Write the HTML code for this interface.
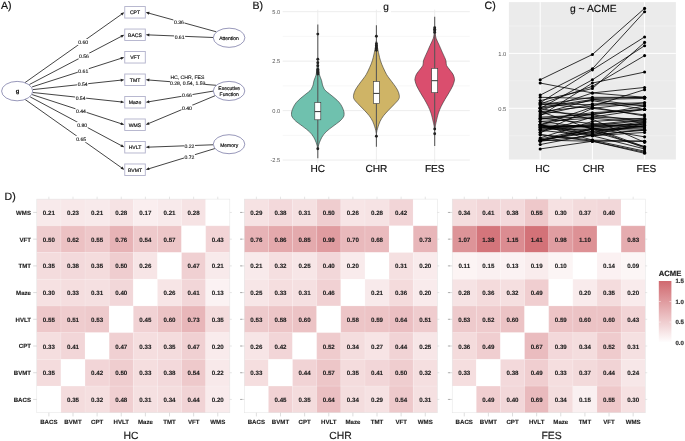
<!DOCTYPE html><html><head><meta charset="utf-8"><style>
html,body{margin:0;padding:0;background:#fff;width:685px;height:441px;overflow:hidden}
svg{display:block;will-change:transform}
text{font-family:"Liberation Sans", sans-serif;text-rendering:geometricPrecision}
</style></head><body>
<svg width="685" height="441" viewBox="0 0 685 441">
<rect width="685" height="441" fill="#fff"/>
<text x="0.9" y="9.0" font-size="10.6" fill="#111" stroke="#111" stroke-width="0.18">A)</text>
<text x="252.4" y="8.6" font-size="10.6" fill="#111" stroke="#111" stroke-width="0.18">B)</text>
<text x="484.5" y="8.8" font-size="10.6" fill="#111" stroke="#111" stroke-width="0.18">C)</text>
<text x="4.6" y="199.6" font-size="10.6" fill="#111" stroke="#111" stroke-width="0.18">D)</text>
<line x1="25.00" y1="82.60" x2="121.82" y2="14.09" stroke="#222" stroke-width="0.85"/><polygon points="124.35,12.30 122.28,15.60 120.54,13.15" fill="#222"/>
<line x1="29.40" y1="84.50" x2="121.60" y2="36.23" stroke="#222" stroke-width="0.85"/><polygon points="124.35,34.79 121.86,37.79 120.46,35.13" fill="#222"/>
<line x1="32.10" y1="86.90" x2="121.40" y2="58.23" stroke="#222" stroke-width="0.85"/><polygon points="124.35,57.28 121.38,59.81 120.46,56.95" fill="#222"/>
<line x1="32.90" y1="89.60" x2="121.27" y2="80.10" stroke="#222" stroke-width="0.85"/><polygon points="124.35,79.77 120.93,81.65 120.61,78.66" fill="#222"/>
<line x1="32.90" y1="92.50" x2="121.27" y2="101.93" stroke="#222" stroke-width="0.85"/><polygon points="124.35,102.26 120.61,103.37 120.93,100.39" fill="#222"/>
<line x1="32.10" y1="94.60" x2="121.40" y2="123.79" stroke="#222" stroke-width="0.85"/><polygon points="124.35,124.75 120.46,125.06 121.39,122.21" fill="#222"/>
<line x1="30.20" y1="96.90" x2="121.62" y2="145.78" stroke="#222" stroke-width="0.85"/><polygon points="124.35,147.24 120.47,146.87 121.88,144.22" fill="#222"/>
<line x1="25.00" y1="99.40" x2="121.82" y2="167.94" stroke="#222" stroke-width="0.85"/><polygon points="124.35,169.73 120.55,168.87 122.28,166.43" fill="#222"/>
<line x1="216.30" y1="31.80" x2="148.69" y2="13.13" stroke="#222" stroke-width="0.85"/><polygon points="145.70,12.30 149.57,11.81 148.77,14.70" fill="#222"/>
<line x1="213.30" y1="37.50" x2="148.80" y2="34.91" stroke="#222" stroke-width="0.85"/><polygon points="145.70,34.79 149.36,33.44 149.24,36.43" fill="#222"/>
<line x1="216.30" y1="85.30" x2="148.79" y2="80.01" stroke="#222" stroke-width="0.85"/><polygon points="145.70,79.77 149.41,78.56 149.17,81.55" fill="#222"/>
<line x1="213.30" y1="91.10" x2="148.76" y2="101.76" stroke="#222" stroke-width="0.85"/><polygon points="145.70,102.26 149.01,100.19 149.50,103.15" fill="#222"/>
<line x1="215.10" y1="95.70" x2="148.56" y2="123.55" stroke="#222" stroke-width="0.85"/><polygon points="145.70,124.75 148.44,121.98 149.60,124.74" fill="#222"/>
<line x1="213.33" y1="144.77" x2="148.80" y2="147.13" stroke="#222" stroke-width="0.85"/><polygon points="145.70,147.24 149.24,145.61 149.35,148.61" fill="#222"/>
<line x1="215.01" y1="148.50" x2="148.66" y2="168.82" stroke="#222" stroke-width="0.85"/><polygon points="145.70,169.73 148.70,167.24 149.58,170.11" fill="#222"/>
<rect x="77.70" y="39.00" width="11.00" height="6.40" fill="#fff"/><text x="83.20" y="44.14" font-size="5.1" fill="#111" stroke="#111" stroke-width="0.12" text-anchor="middle">0.60</text>
<rect x="78.50" y="52.90" width="11.00" height="6.40" fill="#fff"/><text x="84.00" y="58.04" font-size="5.1" fill="#111" stroke="#111" stroke-width="0.12" text-anchor="middle">0.56</text>
<rect x="77.80" y="67.80" width="11.00" height="6.40" fill="#fff"/><text x="83.30" y="72.94" font-size="5.1" fill="#111" stroke="#111" stroke-width="0.12" text-anchor="middle">0.61</text>
<rect x="77.20" y="80.90" width="11.00" height="6.40" fill="#fff"/><text x="82.70" y="86.04" font-size="5.1" fill="#111" stroke="#111" stroke-width="0.12" text-anchor="middle">0.54</text>
<rect x="75.10" y="94.60" width="11.00" height="6.40" fill="#fff"/><text x="80.60" y="99.74" font-size="5.1" fill="#111" stroke="#111" stroke-width="0.12" text-anchor="middle">0.54</text>
<rect x="75.50" y="107.40" width="11.00" height="6.40" fill="#fff"/><text x="81.00" y="112.54" font-size="5.1" fill="#111" stroke="#111" stroke-width="0.12" text-anchor="middle">0.44</text>
<rect x="76.70" y="121.70" width="11.00" height="6.40" fill="#fff"/><text x="82.20" y="126.84" font-size="5.1" fill="#111" stroke="#111" stroke-width="0.12" text-anchor="middle">0.80</text>
<rect x="75.70" y="135.80" width="11.00" height="6.40" fill="#fff"/><text x="81.20" y="140.94" font-size="5.1" fill="#111" stroke="#111" stroke-width="0.12" text-anchor="middle">0.65</text>
<rect x="173.40" y="18.60" width="11.00" height="6.40" fill="#fff"/><text x="178.90" y="23.74" font-size="5.1" fill="#111" stroke="#111" stroke-width="0.12" text-anchor="middle">0.36</text>
<rect x="174.10" y="33.60" width="11.00" height="6.40" fill="#fff"/><text x="179.60" y="38.74" font-size="5.1" fill="#111" stroke="#111" stroke-width="0.12" text-anchor="middle">0.61</text>
<rect x="181.50" y="92.20" width="11.00" height="6.40" fill="#fff"/><text x="187.00" y="97.34" font-size="5.1" fill="#111" stroke="#111" stroke-width="0.12" text-anchor="middle">0.66</text>
<rect x="181.50" y="105.00" width="11.00" height="6.40" fill="#fff"/><text x="187.00" y="110.14" font-size="5.1" fill="#111" stroke="#111" stroke-width="0.12" text-anchor="middle">0.40</text>
<rect x="184.00" y="142.50" width="11.00" height="6.40" fill="#fff"/><text x="189.50" y="147.64" font-size="5.1" fill="#111" stroke="#111" stroke-width="0.12" text-anchor="middle">0.22</text>
<rect x="184.00" y="154.10" width="11.00" height="6.40" fill="#fff"/><text x="189.50" y="159.24" font-size="5.1" fill="#111" stroke="#111" stroke-width="0.12" text-anchor="middle">0.72</text>
<rect x="170.90" y="73.70" width="33.00" height="6.40" fill="#fff"/><text x="187.40" y="78.84" font-size="5.1" fill="#111" stroke="#111" stroke-width="0.12" text-anchor="middle">HC, CHR, FES</text>
<rect x="170.10" y="79.80" width="35.00" height="6.40" fill="#fff"/><text x="187.60" y="84.94" font-size="5.1" fill="#111" stroke="#111" stroke-width="0.12" text-anchor="middle">0.28, 0.54, 1.59</text>
<rect x="124.75" y="6.55" width="20.55" height="11.50" fill="#fff" stroke="#b1b1cb" stroke-width="0.9"/>
<text x="135.03" y="14.15" font-size="5.1" fill="#111" text-anchor="middle" stroke="#111" stroke-width="0.18">CPT</text>
<rect x="124.75" y="29.04" width="20.55" height="11.50" fill="#fff" stroke="#b1b1cb" stroke-width="0.9"/>
<text x="135.03" y="36.64" font-size="5.1" fill="#111" text-anchor="middle" stroke="#111" stroke-width="0.18">BACS</text>
<rect x="124.75" y="51.53" width="20.55" height="11.50" fill="#fff" stroke="#b1b1cb" stroke-width="0.9"/>
<text x="135.03" y="59.13" font-size="5.1" fill="#111" text-anchor="middle" stroke="#111" stroke-width="0.18">VFT</text>
<rect x="124.75" y="74.02" width="20.55" height="11.50" fill="#fff" stroke="#b1b1cb" stroke-width="0.9"/>
<text x="135.03" y="81.62" font-size="5.1" fill="#111" text-anchor="middle" stroke="#111" stroke-width="0.18">TMT</text>
<rect x="124.75" y="96.51" width="20.55" height="11.50" fill="#fff" stroke="#b1b1cb" stroke-width="0.9"/>
<text x="135.03" y="104.11" font-size="5.1" fill="#111" text-anchor="middle" stroke="#111" stroke-width="0.18">Maze</text>
<rect x="124.75" y="119.00" width="20.55" height="11.50" fill="#fff" stroke="#b1b1cb" stroke-width="0.9"/>
<text x="135.03" y="126.60" font-size="5.1" fill="#111" text-anchor="middle" stroke="#111" stroke-width="0.18">WMS</text>
<rect x="124.75" y="141.49" width="20.55" height="11.50" fill="#fff" stroke="#b1b1cb" stroke-width="0.9"/>
<text x="135.03" y="149.09" font-size="5.1" fill="#111" text-anchor="middle" stroke="#111" stroke-width="0.18">HVLT</text>
<rect x="124.75" y="163.98" width="20.55" height="11.50" fill="#fff" stroke="#b1b1cb" stroke-width="0.9"/>
<text x="135.03" y="171.58" font-size="5.1" fill="#111" text-anchor="middle" stroke="#111" stroke-width="0.18">BVMT</text>
<ellipse cx="17.15" cy="91.10" rx="15.55" ry="9.70" fill="#fff" stroke="#6c6c9c" stroke-width="0.7"/>
<text x="17.45" y="93.00" font-size="5.8" font-weight="bold" fill="#111" text-anchor="middle" stroke="#111" stroke-width="0.18">g</text>
<ellipse cx="229.10" cy="37.75" rx="15.80" ry="9.60" fill="#fff" stroke="#6c6c9c" stroke-width="0.7"/>
<ellipse cx="229.05" cy="90.95" rx="15.75" ry="9.55" fill="#fff" stroke="#6c6c9c" stroke-width="0.7"/>
<ellipse cx="229.05" cy="144.20" rx="15.75" ry="9.50" fill="#fff" stroke="#6c6c9c" stroke-width="0.7"/>
<text x="229.0" y="39.9" font-size="5.0" fill="#111" text-anchor="middle" stroke="#111" stroke-width="0.18">Attention</text>
<text x="229.2" y="90.2" font-size="5.0" fill="#111" text-anchor="middle" stroke="#111" stroke-width="0.18">Executive</text>
<text x="229.2" y="95.8" font-size="5.0" fill="#111" text-anchor="middle" stroke="#111" stroke-width="0.18">Function</text>
<text x="229.2" y="146.5" font-size="5.0" fill="#111" text-anchor="middle" stroke="#111" stroke-width="0.18">Memory</text>
<line x1="282.7" x2="469.8" y1="36.42" y2="36.42" stroke="#f2f2f2" stroke-width="0.6"/>
<line x1="282.7" x2="469.8" y1="85.88" y2="85.88" stroke="#f2f2f2" stroke-width="0.6"/>
<line x1="282.7" x2="469.8" y1="135.32" y2="135.32" stroke="#f2f2f2" stroke-width="0.6"/>
<line x1="282.7" x2="469.8" y1="11.70" y2="11.70" stroke="#ebebeb" stroke-width="0.9"/>
<text x="280.2" y="13.95" font-size="5.7" fill="#555" stroke="none" text-anchor="end">5.0</text>
<line x1="282.7" x2="469.8" y1="61.15" y2="61.15" stroke="#ebebeb" stroke-width="0.9"/>
<text x="280.2" y="63.40" font-size="5.7" fill="#555" stroke="none" text-anchor="end">2.5</text>
<line x1="282.7" x2="469.8" y1="110.60" y2="110.60" stroke="#ebebeb" stroke-width="0.9"/>
<text x="280.2" y="112.85" font-size="5.7" fill="#555" stroke="none" text-anchor="end">0.0</text>
<line x1="282.7" x2="469.8" y1="160.05" y2="160.05" stroke="#ebebeb" stroke-width="0.9"/>
<text x="280.2" y="162.30" font-size="5.7" fill="#555" stroke="none" text-anchor="end">-2.5</text>
<line x1="317.8" x2="317.8" y1="9.7" y2="163.0" stroke="#ebebeb" stroke-width="0.9"/>
<line x1="376.4" x2="376.4" y1="9.7" y2="163.0" stroke="#ebebeb" stroke-width="0.9"/>
<line x1="434.7" x2="434.7" y1="9.7" y2="163.0" stroke="#ebebeb" stroke-width="0.9"/>
<path d="M318.00,61.00 C318.07,61.83 318.23,64.33 318.40,66.00 C318.57,67.67 318.82,69.50 319.00,71.00 C319.18,72.50 319.07,73.40 319.50,75.00 C319.93,76.60 321.10,78.93 321.60,80.60 C322.10,82.27 322.15,83.80 322.50,85.00 C322.85,86.20 323.35,87.03 323.70,87.80 C324.05,88.57 324.08,88.93 324.60,89.60 C325.12,90.27 326.00,91.10 326.80,91.80 C327.60,92.50 328.08,92.75 329.40,93.80 C330.72,94.85 333.05,96.65 334.70,98.10 C336.35,99.55 338.07,101.03 339.30,102.50 C340.53,103.97 341.35,105.43 342.10,106.90 C342.85,108.37 343.47,110.03 343.80,111.30 C344.13,112.57 344.17,113.55 344.10,114.50 C344.03,115.45 344.08,115.92 343.40,117.00 C342.72,118.08 341.73,119.45 340.00,121.00 C338.27,122.55 335.32,124.50 333.00,126.30 C330.68,128.10 327.95,129.98 326.10,131.80 C324.25,133.62 323.02,135.38 321.90,137.20 C320.78,139.02 320.00,141.15 319.40,142.70 C318.80,144.25 318.55,145.62 318.30,146.50 C318.05,147.38 318.00,147.75 317.90,148.00 C317.80,148.25 317.80,148.25 317.70,148.00 C317.60,147.75 317.55,147.38 317.30,146.50 C317.05,145.62 316.80,144.25 316.20,142.70 C315.60,141.15 314.82,139.02 313.70,137.20 C312.58,135.38 311.35,133.62 309.50,131.80 C307.65,129.98 304.92,128.10 302.60,126.30 C300.28,124.50 297.33,122.55 295.60,121.00 C293.87,119.45 292.88,118.08 292.20,117.00 C291.52,115.92 291.57,115.45 291.50,114.50 C291.43,113.55 291.47,112.57 291.80,111.30 C292.13,110.03 292.75,108.37 293.50,106.90 C294.25,105.43 295.07,103.97 296.30,102.50 C297.53,101.03 299.25,99.55 300.90,98.10 C302.55,96.65 304.88,94.85 306.20,93.80 C307.52,92.75 308.00,92.50 308.80,91.80 C309.60,91.10 310.48,90.27 311.00,89.60 C311.52,88.93 311.55,88.57 311.90,87.80 C312.25,87.03 312.75,86.20 313.10,85.00 C313.45,83.80 313.50,82.27 314.00,80.60 C314.50,78.93 315.67,76.60 316.10,75.00 C316.53,73.40 316.42,72.50 316.60,71.00 C316.78,69.50 317.03,67.67 317.20,66.00 C317.37,64.33 317.53,61.83 317.60,61.00 Z" fill="#6fc1ae" stroke="#333" stroke-width="0.6"/>
<line x1="317.80" x2="317.80" y1="24.50" y2="158.30" stroke="#555" stroke-width="1.05"/>
<rect x="314.80" y="102.50" width="6.0" height="17.30" fill="#fff" stroke="#333" stroke-width="0.6"/>
<line x1="314.80" x2="320.80" y1="111.60" y2="111.60" stroke="#333" stroke-width="1.0"/>
<circle cx="317.80" cy="34.10" r="1.45" fill="#222"/>
<circle cx="317.80" cy="59.20" r="1.45" fill="#222"/>
<circle cx="317.80" cy="62.80" r="1.45" fill="#222"/>
<circle cx="317.80" cy="65.80" r="1.45" fill="#222"/>
<circle cx="317.80" cy="69.50" r="1.45" fill="#222"/>
<circle cx="317.80" cy="71.00" r="1.45" fill="#222"/>
<circle cx="317.80" cy="72.50" r="1.45" fill="#222"/>
<circle cx="317.80" cy="74.00" r="1.45" fill="#222"/>
<circle cx="317.80" cy="148.80" r="1.45" fill="#222"/>
<path d="M376.60,41.00 C376.67,41.67 376.83,43.83 377.00,45.00 C377.17,46.17 377.30,46.50 377.60,48.00 C377.90,49.50 378.32,51.87 378.80,54.00 C379.28,56.13 379.77,58.53 380.50,60.80 C381.23,63.07 382.20,65.33 383.20,67.60 C384.20,69.87 385.40,72.48 386.50,74.40 C387.60,76.32 388.57,77.42 389.80,79.10 C391.03,80.78 392.62,82.68 393.90,84.50 C395.18,86.32 396.60,88.18 397.50,90.00 C398.40,91.82 399.13,93.82 399.30,95.40 C399.47,96.98 399.43,97.92 398.50,99.50 C397.57,101.08 395.40,103.08 393.70,104.90 C392.00,106.72 390.00,108.58 388.30,110.40 C386.60,112.22 384.87,113.98 383.50,115.80 C382.13,117.62 381.00,119.48 380.10,121.30 C379.20,123.12 378.62,125.17 378.10,126.70 C377.58,128.23 377.27,129.45 377.00,130.50 C376.73,131.55 376.62,132.58 376.50,133.00 C376.38,133.42 376.42,133.42 376.30,133.00 C376.18,132.58 376.07,131.55 375.80,130.50 C375.53,129.45 375.22,128.23 374.70,126.70 C374.18,125.17 373.60,123.12 372.70,121.30 C371.80,119.48 370.67,117.62 369.30,115.80 C367.93,113.98 366.20,112.22 364.50,110.40 C362.80,108.58 360.80,106.72 359.10,104.90 C357.40,103.08 355.23,101.08 354.30,99.50 C353.37,97.92 353.33,96.98 353.50,95.40 C353.67,93.82 354.40,91.82 355.30,90.00 C356.20,88.18 357.62,86.32 358.90,84.50 C360.18,82.68 361.77,80.78 363.00,79.10 C364.23,77.42 365.20,76.32 366.30,74.40 C367.40,72.48 368.60,69.87 369.60,67.60 C370.60,65.33 371.57,63.07 372.30,60.80 C373.03,58.53 373.52,56.13 374.00,54.00 C374.48,51.87 374.90,49.50 375.20,48.00 C375.50,46.50 375.63,46.17 375.80,45.00 C375.97,43.83 376.13,41.67 376.20,41.00 Z" fill="#cfb466" stroke="#333" stroke-width="0.6"/>
<line x1="376.40" x2="376.40" y1="25.20" y2="146.70" stroke="#555" stroke-width="1.05"/>
<rect x="373.40" y="81.50" width="6.0" height="22.10" fill="#fff" stroke="#333" stroke-width="0.6"/>
<line x1="373.40" x2="379.40" y1="93.40" y2="93.40" stroke="#333" stroke-width="1.0"/>
<circle cx="376.40" cy="36.30" r="1.45" fill="#222"/>
<circle cx="376.40" cy="43.80" r="1.45" fill="#222"/>
<circle cx="376.40" cy="45.50" r="1.45" fill="#222"/>
<circle cx="376.40" cy="47.00" r="1.45" fill="#222"/>
<circle cx="376.40" cy="48.50" r="1.45" fill="#222"/>
<circle cx="376.40" cy="50.30" r="1.45" fill="#222"/>
<circle cx="376.40" cy="136.30" r="1.45" fill="#222"/>
<path d="M434.90,30.00 C434.97,30.67 435.08,32.57 435.30,34.00 C435.52,35.43 435.53,36.70 436.20,38.60 C436.87,40.50 438.43,43.47 439.30,45.40 C440.17,47.33 440.70,48.62 441.40,50.20 C442.10,51.78 442.97,53.72 443.50,54.90 C444.03,56.08 444.18,56.28 444.60,57.30 C445.02,58.32 445.68,59.67 446.00,61.00 C446.32,62.33 445.98,63.97 446.50,65.30 C447.02,66.63 448.03,67.53 449.10,69.00 C450.17,70.47 452.02,72.52 452.90,74.10 C453.78,75.68 454.17,77.35 454.40,78.50 C454.63,79.65 454.58,79.77 454.30,81.00 C454.02,82.23 453.58,83.95 452.70,85.90 C451.82,87.85 450.30,90.43 449.00,92.70 C447.70,94.97 446.20,97.23 444.90,99.50 C443.60,101.77 442.28,104.03 441.20,106.30 C440.12,108.57 439.20,110.67 438.40,113.10 C437.60,115.53 436.90,118.83 436.40,120.90 C435.90,122.97 435.67,124.23 435.40,125.50 C435.13,126.77 434.93,128.00 434.80,128.50 C434.67,129.00 434.73,129.00 434.60,128.50 C434.47,128.00 434.27,126.77 434.00,125.50 C433.73,124.23 433.50,122.97 433.00,120.90 C432.50,118.83 431.80,115.53 431.00,113.10 C430.20,110.67 429.28,108.57 428.20,106.30 C427.12,104.03 425.80,101.77 424.50,99.50 C423.20,97.23 421.70,94.97 420.40,92.70 C419.10,90.43 417.58,87.85 416.70,85.90 C415.82,83.95 415.38,82.23 415.10,81.00 C414.82,79.77 414.77,79.65 415.00,78.50 C415.23,77.35 415.62,75.68 416.50,74.10 C417.38,72.52 419.23,70.47 420.30,69.00 C421.37,67.53 422.38,66.63 422.90,65.30 C423.42,63.97 423.08,62.33 423.40,61.00 C423.72,59.67 424.38,58.32 424.80,57.30 C425.22,56.28 425.37,56.08 425.90,54.90 C426.43,53.72 427.30,51.78 428.00,50.20 C428.70,48.62 429.23,47.33 430.10,45.40 C430.97,43.47 432.53,40.50 433.20,38.60 C433.87,36.70 433.88,35.43 434.10,34.00 C434.32,32.57 434.43,30.67 434.50,30.00 Z" fill="#da4e6e" stroke="#333" stroke-width="0.6"/>
<line x1="434.70" x2="434.70" y1="16.80" y2="146.00" stroke="#555" stroke-width="1.05"/>
<rect x="431.70" y="68.30" width="6.0" height="24.40" fill="#fff" stroke="#333" stroke-width="0.6"/>
<line x1="431.70" x2="437.70" y1="80.70" y2="80.70" stroke="#333" stroke-width="1.0"/>
<circle cx="434.70" cy="27.70" r="1.45" fill="#222"/>
<circle cx="434.70" cy="29.20" r="1.45" fill="#222"/>
<circle cx="434.70" cy="30.80" r="1.45" fill="#222"/>
<circle cx="434.70" cy="32.40" r="1.45" fill="#222"/>
<circle cx="434.70" cy="129.00" r="1.45" fill="#222"/>
<circle cx="434.70" cy="133.80" r="1.45" fill="#222"/>
<rect x="381.0" y="3.5" width="10" height="10" fill="#fff"/>
<text x="386.0" y="9.7" font-size="10" fill="#111" text-anchor="middle" stroke="#111" stroke-width="0.18">g</text>
<text x="317.80" y="171.6" font-size="10.1" fill="#111" text-anchor="middle" stroke="#111" stroke-width="0.18">HC</text>
<text x="376.40" y="171.6" font-size="10.1" fill="#111" text-anchor="middle" stroke="#111" stroke-width="0.18">CHR</text>
<text x="434.70" y="171.6" font-size="10.1" fill="#111" text-anchor="middle" stroke="#111" stroke-width="0.18">FES</text>
<rect x="508.9" y="2.1" width="167.0" height="157.4" fill="#ebebeb"/>
<line x1="508.9" x2="675.9" y1="25.95" y2="25.95" stroke="#f6f6f6" stroke-width="0.55"/>
<line x1="508.9" x2="675.9" y1="80.85" y2="80.85" stroke="#f6f6f6" stroke-width="0.55"/>
<line x1="508.9" x2="675.9" y1="135.75" y2="135.75" stroke="#f6f6f6" stroke-width="0.55"/>
<line x1="508.9" x2="675.9" y1="53.40" y2="53.40" stroke="#fff" stroke-width="1.0"/>
<text x="506.3" y="56.15" font-size="5.8" fill="#555" stroke="none" text-anchor="end">1.0</text>
<line x1="508.9" x2="675.9" y1="108.30" y2="108.30" stroke="#fff" stroke-width="1.0"/>
<text x="506.3" y="111.05" font-size="5.8" fill="#555" stroke="none" text-anchor="end">0.5</text>
<line x1="540.2" x2="540.2" y1="2.1" y2="159.6" stroke="#fff" stroke-width="1.0"/>
<line x1="592.4" x2="592.4" y1="2.1" y2="159.6" stroke="#fff" stroke-width="1.0"/>
<line x1="644.6" x2="644.6" y1="2.1" y2="159.6" stroke="#fff" stroke-width="1.0"/>
<polyline points="540.20,140.14 592.40,131.36 644.60,125.87" fill="none" stroke="#000" stroke-width="0.8"/>
<polyline points="540.20,137.95 592.40,121.48 644.60,118.18" fill="none" stroke="#000" stroke-width="0.8"/>
<polyline points="540.20,140.14 592.40,129.16 644.60,121.48" fill="none" stroke="#000" stroke-width="0.8"/>
<polyline points="540.20,132.46 592.40,108.30 644.60,102.81" fill="none" stroke="#000" stroke-width="0.8"/>
<polyline points="540.20,144.53 592.40,134.65 644.60,130.26" fill="none" stroke="#000" stroke-width="0.8"/>
<polyline points="540.20,140.14 592.40,132.46 644.60,122.57" fill="none" stroke="#000" stroke-width="0.8"/>
<polyline points="540.20,132.46 592.40,117.08 644.60,119.28" fill="none" stroke="#000" stroke-width="0.8"/>
<polyline points="540.20,108.30 592.40,79.75 644.60,45.71" fill="none" stroke="#000" stroke-width="0.8"/>
<polyline points="540.20,95.12 592.40,68.77 644.60,11.68" fill="none" stroke="#000" stroke-width="0.8"/>
<polyline points="540.20,102.81 592.40,69.87 644.60,36.93" fill="none" stroke="#000" stroke-width="0.8"/>
<polyline points="540.20,79.75 592.40,54.50 644.60,8.38" fill="none" stroke="#000" stroke-width="0.8"/>
<polyline points="540.20,103.91 592.40,86.34 644.60,55.60" fill="none" stroke="#000" stroke-width="0.8"/>
<polyline points="540.20,100.61 592.40,88.54 644.60,42.42" fill="none" stroke="#000" stroke-width="0.8"/>
<polyline points="540.20,115.99 592.40,83.05 644.60,72.07" fill="none" stroke="#000" stroke-width="0.8"/>
<polyline points="540.20,124.77 592.40,140.14 644.60,151.12" fill="none" stroke="#000" stroke-width="0.8"/>
<polyline points="540.20,121.48 592.40,128.06 644.60,146.73" fill="none" stroke="#000" stroke-width="0.8"/>
<polyline points="540.20,124.77 592.40,135.75 644.60,148.93" fill="none" stroke="#000" stroke-width="0.8"/>
<polyline points="540.20,108.30 592.40,119.28 644.60,142.34" fill="none" stroke="#000" stroke-width="0.8"/>
<polyline points="540.20,134.65 592.40,141.24 644.60,152.22" fill="none" stroke="#000" stroke-width="0.8"/>
<polyline points="540.20,111.59 592.40,129.16 644.60,147.83" fill="none" stroke="#000" stroke-width="0.8"/>
<polyline points="540.20,140.14 592.40,141.24 644.60,153.32" fill="none" stroke="#000" stroke-width="0.8"/>
<polyline points="540.20,130.26 592.40,135.75 644.60,132.46" fill="none" stroke="#000" stroke-width="0.8"/>
<polyline points="540.20,126.97 592.40,126.97 644.60,123.67" fill="none" stroke="#000" stroke-width="0.8"/>
<polyline points="540.20,129.16 592.40,129.16 644.60,128.06" fill="none" stroke="#000" stroke-width="0.8"/>
<polyline points="540.20,119.28 592.40,112.69 644.60,109.40" fill="none" stroke="#000" stroke-width="0.8"/>
<polyline points="540.20,134.65 592.40,140.14 644.60,141.24" fill="none" stroke="#000" stroke-width="0.8"/>
<polyline points="540.20,118.18 592.40,123.67 644.60,124.77" fill="none" stroke="#000" stroke-width="0.8"/>
<polyline points="540.20,148.93 592.40,141.24 644.60,141.24" fill="none" stroke="#000" stroke-width="0.8"/>
<polyline points="540.20,102.81 592.40,105.01 644.60,105.01" fill="none" stroke="#000" stroke-width="0.8"/>
<polyline points="540.20,107.20 592.40,99.52 644.60,106.10" fill="none" stroke="#000" stroke-width="0.8"/>
<polyline points="540.20,105.01 592.40,97.32 644.60,97.32" fill="none" stroke="#000" stroke-width="0.8"/>
<polyline points="540.20,113.79 592.40,99.52 644.60,98.42" fill="none" stroke="#000" stroke-width="0.8"/>
<polyline points="540.20,97.32 592.40,98.42 644.60,97.32" fill="none" stroke="#000" stroke-width="0.8"/>
<polyline points="540.20,83.05 592.40,92.93 644.60,97.32" fill="none" stroke="#000" stroke-width="0.8"/>
<polyline points="540.20,124.77 592.40,107.20 644.60,115.99" fill="none" stroke="#000" stroke-width="0.8"/>
<polyline points="540.20,126.97 592.40,134.65 644.60,123.67" fill="none" stroke="#000" stroke-width="0.8"/>
<polyline points="540.20,118.18 592.40,117.08 644.60,109.40" fill="none" stroke="#000" stroke-width="0.8"/>
<polyline points="540.20,111.59 592.40,106.10 644.60,89.63" fill="none" stroke="#000" stroke-width="0.8"/>
<polyline points="540.20,126.97 592.40,125.87 644.60,120.38" fill="none" stroke="#000" stroke-width="0.8"/>
<polyline points="540.20,124.77 592.40,133.55 644.60,125.87" fill="none" stroke="#000" stroke-width="0.8"/>
<polyline points="540.20,111.59 592.40,114.89 644.60,106.10" fill="none" stroke="#000" stroke-width="0.8"/>
<polyline points="540.20,141.24 592.40,135.75 644.60,129.16" fill="none" stroke="#000" stroke-width="0.8"/>
<polyline points="540.20,124.77 592.40,126.97 644.60,126.97" fill="none" stroke="#000" stroke-width="0.8"/>
<polyline points="540.20,117.08 592.40,114.89 644.60,121.48" fill="none" stroke="#000" stroke-width="0.8"/>
<polyline points="540.20,108.30 592.40,100.61 644.60,109.40" fill="none" stroke="#000" stroke-width="0.8"/>
<polyline points="540.20,126.97 592.40,124.77 644.60,126.97" fill="none" stroke="#000" stroke-width="0.8"/>
<polyline points="540.20,121.48 592.40,118.18 644.60,122.57" fill="none" stroke="#000" stroke-width="0.8"/>
<polyline points="540.20,103.91 592.40,108.30 644.60,114.89" fill="none" stroke="#000" stroke-width="0.8"/>
<polyline points="540.20,139.04 592.40,128.06 644.60,136.85" fill="none" stroke="#000" stroke-width="0.8"/>
<polyline points="540.20,124.77 592.40,113.79 644.60,109.40" fill="none" stroke="#000" stroke-width="0.8"/>
<polyline points="540.20,128.06 592.40,124.77 644.60,119.28" fill="none" stroke="#000" stroke-width="0.8"/>
<polyline points="540.20,110.50 592.40,92.93 644.60,87.44" fill="none" stroke="#000" stroke-width="0.8"/>
<polyline points="540.20,129.16 592.40,125.87 644.60,125.87" fill="none" stroke="#000" stroke-width="0.8"/>
<polyline points="540.20,125.87 592.40,131.36 644.60,146.73" fill="none" stroke="#000" stroke-width="0.8"/>
<polyline points="540.20,114.89 592.40,103.91 644.60,102.81" fill="none" stroke="#000" stroke-width="0.8"/>
<polyline points="540.20,141.24 592.40,129.16 644.60,130.26" fill="none" stroke="#000" stroke-width="0.8"/>
<circle cx="540.20" cy="140.14" r="1.55" fill="#000"/>
<circle cx="592.40" cy="131.36" r="1.55" fill="#000"/>
<circle cx="644.60" cy="125.87" r="1.55" fill="#000"/>
<circle cx="540.20" cy="137.95" r="1.55" fill="#000"/>
<circle cx="592.40" cy="121.48" r="1.55" fill="#000"/>
<circle cx="644.60" cy="118.18" r="1.55" fill="#000"/>
<circle cx="540.20" cy="140.14" r="1.55" fill="#000"/>
<circle cx="592.40" cy="129.16" r="1.55" fill="#000"/>
<circle cx="644.60" cy="121.48" r="1.55" fill="#000"/>
<circle cx="540.20" cy="132.46" r="1.55" fill="#000"/>
<circle cx="592.40" cy="108.30" r="1.55" fill="#000"/>
<circle cx="644.60" cy="102.81" r="1.55" fill="#000"/>
<circle cx="540.20" cy="144.53" r="1.55" fill="#000"/>
<circle cx="592.40" cy="134.65" r="1.55" fill="#000"/>
<circle cx="644.60" cy="130.26" r="1.55" fill="#000"/>
<circle cx="540.20" cy="140.14" r="1.55" fill="#000"/>
<circle cx="592.40" cy="132.46" r="1.55" fill="#000"/>
<circle cx="644.60" cy="122.57" r="1.55" fill="#000"/>
<circle cx="540.20" cy="132.46" r="1.55" fill="#000"/>
<circle cx="592.40" cy="117.08" r="1.55" fill="#000"/>
<circle cx="644.60" cy="119.28" r="1.55" fill="#000"/>
<circle cx="540.20" cy="108.30" r="1.55" fill="#000"/>
<circle cx="592.40" cy="79.75" r="1.55" fill="#000"/>
<circle cx="644.60" cy="45.71" r="1.55" fill="#000"/>
<circle cx="540.20" cy="95.12" r="1.55" fill="#000"/>
<circle cx="592.40" cy="68.77" r="1.55" fill="#000"/>
<circle cx="644.60" cy="11.68" r="1.55" fill="#000"/>
<circle cx="540.20" cy="102.81" r="1.55" fill="#000"/>
<circle cx="592.40" cy="69.87" r="1.55" fill="#000"/>
<circle cx="644.60" cy="36.93" r="1.55" fill="#000"/>
<circle cx="540.20" cy="79.75" r="1.55" fill="#000"/>
<circle cx="592.40" cy="54.50" r="1.55" fill="#000"/>
<circle cx="644.60" cy="8.38" r="1.55" fill="#000"/>
<circle cx="540.20" cy="103.91" r="1.55" fill="#000"/>
<circle cx="592.40" cy="86.34" r="1.55" fill="#000"/>
<circle cx="644.60" cy="55.60" r="1.55" fill="#000"/>
<circle cx="540.20" cy="100.61" r="1.55" fill="#000"/>
<circle cx="592.40" cy="88.54" r="1.55" fill="#000"/>
<circle cx="644.60" cy="42.42" r="1.55" fill="#000"/>
<circle cx="540.20" cy="115.99" r="1.55" fill="#000"/>
<circle cx="592.40" cy="83.05" r="1.55" fill="#000"/>
<circle cx="644.60" cy="72.07" r="1.55" fill="#000"/>
<circle cx="540.20" cy="124.77" r="1.55" fill="#000"/>
<circle cx="592.40" cy="140.14" r="1.55" fill="#000"/>
<circle cx="644.60" cy="151.12" r="1.55" fill="#000"/>
<circle cx="540.20" cy="121.48" r="1.55" fill="#000"/>
<circle cx="592.40" cy="128.06" r="1.55" fill="#000"/>
<circle cx="644.60" cy="146.73" r="1.55" fill="#000"/>
<circle cx="540.20" cy="124.77" r="1.55" fill="#000"/>
<circle cx="592.40" cy="135.75" r="1.55" fill="#000"/>
<circle cx="644.60" cy="148.93" r="1.55" fill="#000"/>
<circle cx="540.20" cy="108.30" r="1.55" fill="#000"/>
<circle cx="592.40" cy="119.28" r="1.55" fill="#000"/>
<circle cx="644.60" cy="142.34" r="1.55" fill="#000"/>
<circle cx="540.20" cy="134.65" r="1.55" fill="#000"/>
<circle cx="592.40" cy="141.24" r="1.55" fill="#000"/>
<circle cx="644.60" cy="152.22" r="1.55" fill="#000"/>
<circle cx="540.20" cy="111.59" r="1.55" fill="#000"/>
<circle cx="592.40" cy="129.16" r="1.55" fill="#000"/>
<circle cx="644.60" cy="147.83" r="1.55" fill="#000"/>
<circle cx="540.20" cy="140.14" r="1.55" fill="#000"/>
<circle cx="592.40" cy="141.24" r="1.55" fill="#000"/>
<circle cx="644.60" cy="153.32" r="1.55" fill="#000"/>
<circle cx="540.20" cy="130.26" r="1.55" fill="#000"/>
<circle cx="592.40" cy="135.75" r="1.55" fill="#000"/>
<circle cx="644.60" cy="132.46" r="1.55" fill="#000"/>
<circle cx="540.20" cy="126.97" r="1.55" fill="#000"/>
<circle cx="592.40" cy="126.97" r="1.55" fill="#000"/>
<circle cx="644.60" cy="123.67" r="1.55" fill="#000"/>
<circle cx="540.20" cy="129.16" r="1.55" fill="#000"/>
<circle cx="592.40" cy="129.16" r="1.55" fill="#000"/>
<circle cx="644.60" cy="128.06" r="1.55" fill="#000"/>
<circle cx="540.20" cy="119.28" r="1.55" fill="#000"/>
<circle cx="592.40" cy="112.69" r="1.55" fill="#000"/>
<circle cx="644.60" cy="109.40" r="1.55" fill="#000"/>
<circle cx="540.20" cy="134.65" r="1.55" fill="#000"/>
<circle cx="592.40" cy="140.14" r="1.55" fill="#000"/>
<circle cx="644.60" cy="141.24" r="1.55" fill="#000"/>
<circle cx="540.20" cy="118.18" r="1.55" fill="#000"/>
<circle cx="592.40" cy="123.67" r="1.55" fill="#000"/>
<circle cx="644.60" cy="124.77" r="1.55" fill="#000"/>
<circle cx="540.20" cy="148.93" r="1.55" fill="#000"/>
<circle cx="592.40" cy="141.24" r="1.55" fill="#000"/>
<circle cx="644.60" cy="141.24" r="1.55" fill="#000"/>
<circle cx="540.20" cy="102.81" r="1.55" fill="#000"/>
<circle cx="592.40" cy="105.01" r="1.55" fill="#000"/>
<circle cx="644.60" cy="105.01" r="1.55" fill="#000"/>
<circle cx="540.20" cy="107.20" r="1.55" fill="#000"/>
<circle cx="592.40" cy="99.52" r="1.55" fill="#000"/>
<circle cx="644.60" cy="106.10" r="1.55" fill="#000"/>
<circle cx="540.20" cy="105.01" r="1.55" fill="#000"/>
<circle cx="592.40" cy="97.32" r="1.55" fill="#000"/>
<circle cx="644.60" cy="97.32" r="1.55" fill="#000"/>
<circle cx="540.20" cy="113.79" r="1.55" fill="#000"/>
<circle cx="592.40" cy="99.52" r="1.55" fill="#000"/>
<circle cx="644.60" cy="98.42" r="1.55" fill="#000"/>
<circle cx="540.20" cy="97.32" r="1.55" fill="#000"/>
<circle cx="592.40" cy="98.42" r="1.55" fill="#000"/>
<circle cx="644.60" cy="97.32" r="1.55" fill="#000"/>
<circle cx="540.20" cy="83.05" r="1.55" fill="#000"/>
<circle cx="592.40" cy="92.93" r="1.55" fill="#000"/>
<circle cx="644.60" cy="97.32" r="1.55" fill="#000"/>
<circle cx="540.20" cy="124.77" r="1.55" fill="#000"/>
<circle cx="592.40" cy="107.20" r="1.55" fill="#000"/>
<circle cx="644.60" cy="115.99" r="1.55" fill="#000"/>
<circle cx="540.20" cy="126.97" r="1.55" fill="#000"/>
<circle cx="592.40" cy="134.65" r="1.55" fill="#000"/>
<circle cx="644.60" cy="123.67" r="1.55" fill="#000"/>
<circle cx="540.20" cy="118.18" r="1.55" fill="#000"/>
<circle cx="592.40" cy="117.08" r="1.55" fill="#000"/>
<circle cx="644.60" cy="109.40" r="1.55" fill="#000"/>
<circle cx="540.20" cy="111.59" r="1.55" fill="#000"/>
<circle cx="592.40" cy="106.10" r="1.55" fill="#000"/>
<circle cx="644.60" cy="89.63" r="1.55" fill="#000"/>
<circle cx="540.20" cy="126.97" r="1.55" fill="#000"/>
<circle cx="592.40" cy="125.87" r="1.55" fill="#000"/>
<circle cx="644.60" cy="120.38" r="1.55" fill="#000"/>
<circle cx="540.20" cy="124.77" r="1.55" fill="#000"/>
<circle cx="592.40" cy="133.55" r="1.55" fill="#000"/>
<circle cx="644.60" cy="125.87" r="1.55" fill="#000"/>
<circle cx="540.20" cy="111.59" r="1.55" fill="#000"/>
<circle cx="592.40" cy="114.89" r="1.55" fill="#000"/>
<circle cx="644.60" cy="106.10" r="1.55" fill="#000"/>
<circle cx="540.20" cy="141.24" r="1.55" fill="#000"/>
<circle cx="592.40" cy="135.75" r="1.55" fill="#000"/>
<circle cx="644.60" cy="129.16" r="1.55" fill="#000"/>
<circle cx="540.20" cy="124.77" r="1.55" fill="#000"/>
<circle cx="592.40" cy="126.97" r="1.55" fill="#000"/>
<circle cx="644.60" cy="126.97" r="1.55" fill="#000"/>
<circle cx="540.20" cy="117.08" r="1.55" fill="#000"/>
<circle cx="592.40" cy="114.89" r="1.55" fill="#000"/>
<circle cx="644.60" cy="121.48" r="1.55" fill="#000"/>
<circle cx="540.20" cy="108.30" r="1.55" fill="#000"/>
<circle cx="592.40" cy="100.61" r="1.55" fill="#000"/>
<circle cx="644.60" cy="109.40" r="1.55" fill="#000"/>
<circle cx="540.20" cy="126.97" r="1.55" fill="#000"/>
<circle cx="592.40" cy="124.77" r="1.55" fill="#000"/>
<circle cx="644.60" cy="126.97" r="1.55" fill="#000"/>
<circle cx="540.20" cy="121.48" r="1.55" fill="#000"/>
<circle cx="592.40" cy="118.18" r="1.55" fill="#000"/>
<circle cx="644.60" cy="122.57" r="1.55" fill="#000"/>
<circle cx="540.20" cy="103.91" r="1.55" fill="#000"/>
<circle cx="592.40" cy="108.30" r="1.55" fill="#000"/>
<circle cx="644.60" cy="114.89" r="1.55" fill="#000"/>
<circle cx="540.20" cy="139.04" r="1.55" fill="#000"/>
<circle cx="592.40" cy="128.06" r="1.55" fill="#000"/>
<circle cx="644.60" cy="136.85" r="1.55" fill="#000"/>
<circle cx="540.20" cy="124.77" r="1.55" fill="#000"/>
<circle cx="592.40" cy="113.79" r="1.55" fill="#000"/>
<circle cx="644.60" cy="109.40" r="1.55" fill="#000"/>
<circle cx="540.20" cy="128.06" r="1.55" fill="#000"/>
<circle cx="592.40" cy="124.77" r="1.55" fill="#000"/>
<circle cx="644.60" cy="119.28" r="1.55" fill="#000"/>
<circle cx="540.20" cy="110.50" r="1.55" fill="#000"/>
<circle cx="592.40" cy="92.93" r="1.55" fill="#000"/>
<circle cx="644.60" cy="87.44" r="1.55" fill="#000"/>
<circle cx="540.20" cy="129.16" r="1.55" fill="#000"/>
<circle cx="592.40" cy="125.87" r="1.55" fill="#000"/>
<circle cx="644.60" cy="125.87" r="1.55" fill="#000"/>
<circle cx="540.20" cy="125.87" r="1.55" fill="#000"/>
<circle cx="592.40" cy="131.36" r="1.55" fill="#000"/>
<circle cx="644.60" cy="146.73" r="1.55" fill="#000"/>
<circle cx="540.20" cy="114.89" r="1.55" fill="#000"/>
<circle cx="592.40" cy="103.91" r="1.55" fill="#000"/>
<circle cx="644.60" cy="102.81" r="1.55" fill="#000"/>
<circle cx="540.20" cy="141.24" r="1.55" fill="#000"/>
<circle cx="592.40" cy="129.16" r="1.55" fill="#000"/>
<circle cx="644.60" cy="130.26" r="1.55" fill="#000"/>
<text x="570.0" y="12.3" font-size="10.3" fill="#111" stroke="#111" stroke-width="0.18">g ~ ACME</text>
<text x="542.60" y="171.7" font-size="10.1" fill="#111" text-anchor="middle" stroke="#111" stroke-width="0.18">HC</text>
<text x="593.60" y="171.7" font-size="10.1" fill="#111" text-anchor="middle" stroke="#111" stroke-width="0.18">CHR</text>
<text x="646.40" y="171.7" font-size="10.1" fill="#111" text-anchor="middle" stroke="#111" stroke-width="0.18">FES</text>
<rect x="36.80" y="199.10" width="24.13" height="26.71" fill="#f8eaeb"/>
<rect x="60.93" y="199.10" width="24.13" height="26.71" fill="#f8e8e9"/>
<rect x="85.06" y="199.10" width="24.13" height="26.71" fill="#f8eaeb"/>
<rect x="109.19" y="199.10" width="24.13" height="26.71" fill="#f6e3e4"/>
<rect x="133.32" y="199.10" width="24.13" height="26.71" fill="#faeeef"/>
<rect x="157.45" y="199.10" width="24.13" height="26.71" fill="#f8eaeb"/>
<rect x="181.58" y="199.10" width="24.13" height="26.71" fill="#f6e3e4"/>
<rect x="205.71" y="199.10" width="24.13" height="26.71" fill="#ffffff"/>
<rect x="36.80" y="225.81" width="24.13" height="26.71" fill="#efcdcf"/>
<rect x="60.93" y="225.81" width="24.13" height="26.71" fill="#ecc1c3"/>
<rect x="85.06" y="225.81" width="24.13" height="26.71" fill="#eec8ca"/>
<rect x="109.19" y="225.81" width="24.13" height="26.71" fill="#e7b3b6"/>
<rect x="133.32" y="225.81" width="24.13" height="26.71" fill="#eec9cb"/>
<rect x="157.45" y="225.81" width="24.13" height="26.71" fill="#edc6c8"/>
<rect x="181.58" y="225.81" width="24.13" height="26.71" fill="#ffffff"/>
<rect x="205.71" y="225.81" width="24.13" height="26.71" fill="#f2d4d6"/>
<rect x="36.80" y="252.52" width="24.13" height="26.71" fill="#f4dcdd"/>
<rect x="60.93" y="252.52" width="24.13" height="26.71" fill="#f3d9db"/>
<rect x="85.06" y="252.52" width="24.13" height="26.71" fill="#f4dcdd"/>
<rect x="109.19" y="252.52" width="24.13" height="26.71" fill="#efcdcf"/>
<rect x="133.32" y="252.52" width="24.13" height="26.71" fill="#f7e5e6"/>
<rect x="157.45" y="252.52" width="24.13" height="26.71" fill="#ffffff"/>
<rect x="181.58" y="252.52" width="24.13" height="26.71" fill="#f0d0d2"/>
<rect x="205.71" y="252.52" width="24.13" height="26.71" fill="#f8eaeb"/>
<rect x="36.80" y="279.23" width="24.13" height="26.71" fill="#f6e1e2"/>
<rect x="60.93" y="279.23" width="24.13" height="26.71" fill="#f5dedf"/>
<rect x="85.06" y="279.23" width="24.13" height="26.71" fill="#f5e0e1"/>
<rect x="109.19" y="279.23" width="24.13" height="26.71" fill="#f2d7d9"/>
<rect x="133.32" y="279.23" width="24.13" height="26.71" fill="#ffffff"/>
<rect x="157.45" y="279.23" width="24.13" height="26.71" fill="#f7e5e6"/>
<rect x="181.58" y="279.23" width="24.13" height="26.71" fill="#f2d6d8"/>
<rect x="205.71" y="279.23" width="24.13" height="26.71" fill="#fbf2f3"/>
<rect x="36.80" y="305.94" width="24.13" height="26.71" fill="#eec8ca"/>
<rect x="60.93" y="305.94" width="24.13" height="26.71" fill="#efccce"/>
<rect x="85.06" y="305.94" width="24.13" height="26.71" fill="#eecacc"/>
<rect x="109.19" y="305.94" width="24.13" height="26.71" fill="#ffffff"/>
<rect x="133.32" y="305.94" width="24.13" height="26.71" fill="#f1d2d4"/>
<rect x="157.45" y="305.94" width="24.13" height="26.71" fill="#ecc3c5"/>
<rect x="181.58" y="305.94" width="24.13" height="26.71" fill="#e8b6b9"/>
<rect x="205.71" y="305.94" width="24.13" height="26.71" fill="#f4dcdd"/>
<rect x="36.80" y="332.65" width="24.13" height="26.71" fill="#f5dedf"/>
<rect x="60.93" y="332.65" width="24.13" height="26.71" fill="#f2d6d8"/>
<rect x="85.06" y="332.65" width="24.13" height="26.71" fill="#ffffff"/>
<rect x="109.19" y="332.65" width="24.13" height="26.71" fill="#f0d0d2"/>
<rect x="133.32" y="332.65" width="24.13" height="26.71" fill="#f5dedf"/>
<rect x="157.45" y="332.65" width="24.13" height="26.71" fill="#f4dcdd"/>
<rect x="181.58" y="332.65" width="24.13" height="26.71" fill="#f0d0d2"/>
<rect x="205.71" y="332.65" width="24.13" height="26.71" fill="#f9ebec"/>
<rect x="36.80" y="359.36" width="24.13" height="26.71" fill="#f4dcdd"/>
<rect x="60.93" y="359.36" width="24.13" height="26.71" fill="#ffffff"/>
<rect x="85.06" y="359.36" width="24.13" height="26.71" fill="#f2d5d7"/>
<rect x="109.19" y="359.36" width="24.13" height="26.71" fill="#efcdcf"/>
<rect x="133.32" y="359.36" width="24.13" height="26.71" fill="#f5dedf"/>
<rect x="157.45" y="359.36" width="24.13" height="26.71" fill="#f3d9db"/>
<rect x="181.58" y="359.36" width="24.13" height="26.71" fill="#eec9cb"/>
<rect x="205.71" y="359.36" width="24.13" height="26.71" fill="#f8e9ea"/>
<rect x="36.80" y="386.07" width="24.13" height="26.71" fill="#ffffff"/>
<rect x="60.93" y="386.07" width="24.13" height="26.71" fill="#f4dcdd"/>
<rect x="85.06" y="386.07" width="24.13" height="26.71" fill="#f5dfe0"/>
<rect x="109.19" y="386.07" width="24.13" height="26.71" fill="#f0cfd1"/>
<rect x="133.32" y="386.07" width="24.13" height="26.71" fill="#f5e0e1"/>
<rect x="157.45" y="386.07" width="24.13" height="26.71" fill="#f4ddde"/>
<rect x="181.58" y="386.07" width="24.13" height="26.71" fill="#f1d3d5"/>
<rect x="205.71" y="386.07" width="24.13" height="26.71" fill="#f9ebec"/>
<line x1="60.93" x2="60.93" y1="199.10" y2="412.78" stroke="#fff" stroke-opacity="0.35" stroke-width="0.5"/>
<line x1="36.80" x2="229.84" y1="225.81" y2="225.81" stroke="#fff" stroke-opacity="0.35" stroke-width="0.5"/>
<line x1="85.06" x2="85.06" y1="199.10" y2="412.78" stroke="#fff" stroke-opacity="0.35" stroke-width="0.5"/>
<line x1="36.80" x2="229.84" y1="252.52" y2="252.52" stroke="#fff" stroke-opacity="0.35" stroke-width="0.5"/>
<line x1="109.19" x2="109.19" y1="199.10" y2="412.78" stroke="#fff" stroke-opacity="0.35" stroke-width="0.5"/>
<line x1="36.80" x2="229.84" y1="279.23" y2="279.23" stroke="#fff" stroke-opacity="0.35" stroke-width="0.5"/>
<line x1="133.32" x2="133.32" y1="199.10" y2="412.78" stroke="#fff" stroke-opacity="0.35" stroke-width="0.5"/>
<line x1="36.80" x2="229.84" y1="305.94" y2="305.94" stroke="#fff" stroke-opacity="0.35" stroke-width="0.5"/>
<line x1="157.45" x2="157.45" y1="199.10" y2="412.78" stroke="#fff" stroke-opacity="0.35" stroke-width="0.5"/>
<line x1="36.80" x2="229.84" y1="332.65" y2="332.65" stroke="#fff" stroke-opacity="0.35" stroke-width="0.5"/>
<line x1="181.58" x2="181.58" y1="199.10" y2="412.78" stroke="#fff" stroke-opacity="0.35" stroke-width="0.5"/>
<line x1="36.80" x2="229.84" y1="359.36" y2="359.36" stroke="#fff" stroke-opacity="0.35" stroke-width="0.5"/>
<line x1="205.71" x2="205.71" y1="199.10" y2="412.78" stroke="#fff" stroke-opacity="0.35" stroke-width="0.5"/>
<line x1="36.80" x2="229.84" y1="386.07" y2="386.07" stroke="#fff" stroke-opacity="0.35" stroke-width="0.5"/>
<text x="48.86" y="215.05" font-size="6.2" font-weight="bold" fill="#1a1a1a" stroke="#1a1a1a" stroke-width="0.1" text-anchor="middle">0.21</text>
<text x="73.00" y="215.05" font-size="6.2" font-weight="bold" fill="#1a1a1a" stroke="#1a1a1a" stroke-width="0.1" text-anchor="middle">0.23</text>
<text x="97.12" y="215.05" font-size="6.2" font-weight="bold" fill="#1a1a1a" stroke="#1a1a1a" stroke-width="0.1" text-anchor="middle">0.21</text>
<text x="121.25" y="215.05" font-size="6.2" font-weight="bold" fill="#1a1a1a" stroke="#1a1a1a" stroke-width="0.1" text-anchor="middle">0.28</text>
<text x="145.38" y="215.05" font-size="6.2" font-weight="bold" fill="#1a1a1a" stroke="#1a1a1a" stroke-width="0.1" text-anchor="middle">0.17</text>
<text x="169.51" y="215.05" font-size="6.2" font-weight="bold" fill="#1a1a1a" stroke="#1a1a1a" stroke-width="0.1" text-anchor="middle">0.21</text>
<text x="193.64" y="215.05" font-size="6.2" font-weight="bold" fill="#1a1a1a" stroke="#1a1a1a" stroke-width="0.1" text-anchor="middle">0.28</text>
<text x="48.86" y="241.76" font-size="6.2" font-weight="bold" fill="#1a1a1a" stroke="#1a1a1a" stroke-width="0.1" text-anchor="middle">0.50</text>
<text x="73.00" y="241.76" font-size="6.2" font-weight="bold" fill="#1a1a1a" stroke="#1a1a1a" stroke-width="0.1" text-anchor="middle">0.62</text>
<text x="97.12" y="241.76" font-size="6.2" font-weight="bold" fill="#1a1a1a" stroke="#1a1a1a" stroke-width="0.1" text-anchor="middle">0.55</text>
<text x="121.25" y="241.76" font-size="6.2" font-weight="bold" fill="#1a1a1a" stroke="#1a1a1a" stroke-width="0.1" text-anchor="middle">0.76</text>
<text x="145.38" y="241.76" font-size="6.2" font-weight="bold" fill="#1a1a1a" stroke="#1a1a1a" stroke-width="0.1" text-anchor="middle">0.54</text>
<text x="169.51" y="241.76" font-size="6.2" font-weight="bold" fill="#1a1a1a" stroke="#1a1a1a" stroke-width="0.1" text-anchor="middle">0.57</text>
<text x="217.77" y="241.76" font-size="6.2" font-weight="bold" fill="#1a1a1a" stroke="#1a1a1a" stroke-width="0.1" text-anchor="middle">0.43</text>
<text x="48.86" y="268.48" font-size="6.2" font-weight="bold" fill="#1a1a1a" stroke="#1a1a1a" stroke-width="0.1" text-anchor="middle">0.35</text>
<text x="73.00" y="268.48" font-size="6.2" font-weight="bold" fill="#1a1a1a" stroke="#1a1a1a" stroke-width="0.1" text-anchor="middle">0.38</text>
<text x="97.12" y="268.48" font-size="6.2" font-weight="bold" fill="#1a1a1a" stroke="#1a1a1a" stroke-width="0.1" text-anchor="middle">0.35</text>
<text x="121.25" y="268.48" font-size="6.2" font-weight="bold" fill="#1a1a1a" stroke="#1a1a1a" stroke-width="0.1" text-anchor="middle">0.50</text>
<text x="145.38" y="268.48" font-size="6.2" font-weight="bold" fill="#1a1a1a" stroke="#1a1a1a" stroke-width="0.1" text-anchor="middle">0.26</text>
<text x="193.64" y="268.48" font-size="6.2" font-weight="bold" fill="#1a1a1a" stroke="#1a1a1a" stroke-width="0.1" text-anchor="middle">0.47</text>
<text x="217.77" y="268.48" font-size="6.2" font-weight="bold" fill="#1a1a1a" stroke="#1a1a1a" stroke-width="0.1" text-anchor="middle">0.21</text>
<text x="48.86" y="295.19" font-size="6.2" font-weight="bold" fill="#1a1a1a" stroke="#1a1a1a" stroke-width="0.1" text-anchor="middle">0.30</text>
<text x="73.00" y="295.19" font-size="6.2" font-weight="bold" fill="#1a1a1a" stroke="#1a1a1a" stroke-width="0.1" text-anchor="middle">0.33</text>
<text x="97.12" y="295.19" font-size="6.2" font-weight="bold" fill="#1a1a1a" stroke="#1a1a1a" stroke-width="0.1" text-anchor="middle">0.31</text>
<text x="121.25" y="295.19" font-size="6.2" font-weight="bold" fill="#1a1a1a" stroke="#1a1a1a" stroke-width="0.1" text-anchor="middle">0.40</text>
<text x="169.51" y="295.19" font-size="6.2" font-weight="bold" fill="#1a1a1a" stroke="#1a1a1a" stroke-width="0.1" text-anchor="middle">0.26</text>
<text x="193.64" y="295.19" font-size="6.2" font-weight="bold" fill="#1a1a1a" stroke="#1a1a1a" stroke-width="0.1" text-anchor="middle">0.41</text>
<text x="217.77" y="295.19" font-size="6.2" font-weight="bold" fill="#1a1a1a" stroke="#1a1a1a" stroke-width="0.1" text-anchor="middle">0.13</text>
<text x="48.86" y="321.90" font-size="6.2" font-weight="bold" fill="#1a1a1a" stroke="#1a1a1a" stroke-width="0.1" text-anchor="middle">0.55</text>
<text x="73.00" y="321.90" font-size="6.2" font-weight="bold" fill="#1a1a1a" stroke="#1a1a1a" stroke-width="0.1" text-anchor="middle">0.51</text>
<text x="97.12" y="321.90" font-size="6.2" font-weight="bold" fill="#1a1a1a" stroke="#1a1a1a" stroke-width="0.1" text-anchor="middle">0.53</text>
<text x="145.38" y="321.90" font-size="6.2" font-weight="bold" fill="#1a1a1a" stroke="#1a1a1a" stroke-width="0.1" text-anchor="middle">0.45</text>
<text x="169.51" y="321.90" font-size="6.2" font-weight="bold" fill="#1a1a1a" stroke="#1a1a1a" stroke-width="0.1" text-anchor="middle">0.60</text>
<text x="193.64" y="321.90" font-size="6.2" font-weight="bold" fill="#1a1a1a" stroke="#1a1a1a" stroke-width="0.1" text-anchor="middle">0.73</text>
<text x="217.77" y="321.90" font-size="6.2" font-weight="bold" fill="#1a1a1a" stroke="#1a1a1a" stroke-width="0.1" text-anchor="middle">0.35</text>
<text x="48.86" y="348.61" font-size="6.2" font-weight="bold" fill="#1a1a1a" stroke="#1a1a1a" stroke-width="0.1" text-anchor="middle">0.33</text>
<text x="73.00" y="348.61" font-size="6.2" font-weight="bold" fill="#1a1a1a" stroke="#1a1a1a" stroke-width="0.1" text-anchor="middle">0.41</text>
<text x="121.25" y="348.61" font-size="6.2" font-weight="bold" fill="#1a1a1a" stroke="#1a1a1a" stroke-width="0.1" text-anchor="middle">0.47</text>
<text x="145.38" y="348.61" font-size="6.2" font-weight="bold" fill="#1a1a1a" stroke="#1a1a1a" stroke-width="0.1" text-anchor="middle">0.33</text>
<text x="169.51" y="348.61" font-size="6.2" font-weight="bold" fill="#1a1a1a" stroke="#1a1a1a" stroke-width="0.1" text-anchor="middle">0.35</text>
<text x="193.64" y="348.61" font-size="6.2" font-weight="bold" fill="#1a1a1a" stroke="#1a1a1a" stroke-width="0.1" text-anchor="middle">0.47</text>
<text x="217.77" y="348.61" font-size="6.2" font-weight="bold" fill="#1a1a1a" stroke="#1a1a1a" stroke-width="0.1" text-anchor="middle">0.20</text>
<text x="48.86" y="375.32" font-size="6.2" font-weight="bold" fill="#1a1a1a" stroke="#1a1a1a" stroke-width="0.1" text-anchor="middle">0.35</text>
<text x="97.12" y="375.32" font-size="6.2" font-weight="bold" fill="#1a1a1a" stroke="#1a1a1a" stroke-width="0.1" text-anchor="middle">0.42</text>
<text x="121.25" y="375.32" font-size="6.2" font-weight="bold" fill="#1a1a1a" stroke="#1a1a1a" stroke-width="0.1" text-anchor="middle">0.50</text>
<text x="145.38" y="375.32" font-size="6.2" font-weight="bold" fill="#1a1a1a" stroke="#1a1a1a" stroke-width="0.1" text-anchor="middle">0.33</text>
<text x="169.51" y="375.32" font-size="6.2" font-weight="bold" fill="#1a1a1a" stroke="#1a1a1a" stroke-width="0.1" text-anchor="middle">0.38</text>
<text x="193.64" y="375.32" font-size="6.2" font-weight="bold" fill="#1a1a1a" stroke="#1a1a1a" stroke-width="0.1" text-anchor="middle">0.54</text>
<text x="217.77" y="375.32" font-size="6.2" font-weight="bold" fill="#1a1a1a" stroke="#1a1a1a" stroke-width="0.1" text-anchor="middle">0.22</text>
<text x="73.00" y="402.03" font-size="6.2" font-weight="bold" fill="#1a1a1a" stroke="#1a1a1a" stroke-width="0.1" text-anchor="middle">0.35</text>
<text x="97.12" y="402.03" font-size="6.2" font-weight="bold" fill="#1a1a1a" stroke="#1a1a1a" stroke-width="0.1" text-anchor="middle">0.32</text>
<text x="121.25" y="402.03" font-size="6.2" font-weight="bold" fill="#1a1a1a" stroke="#1a1a1a" stroke-width="0.1" text-anchor="middle">0.48</text>
<text x="145.38" y="402.03" font-size="6.2" font-weight="bold" fill="#1a1a1a" stroke="#1a1a1a" stroke-width="0.1" text-anchor="middle">0.31</text>
<text x="169.51" y="402.03" font-size="6.2" font-weight="bold" fill="#1a1a1a" stroke="#1a1a1a" stroke-width="0.1" text-anchor="middle">0.34</text>
<text x="193.64" y="402.03" font-size="6.2" font-weight="bold" fill="#1a1a1a" stroke="#1a1a1a" stroke-width="0.1" text-anchor="middle">0.44</text>
<text x="217.77" y="402.03" font-size="6.2" font-weight="bold" fill="#1a1a1a" stroke="#1a1a1a" stroke-width="0.1" text-anchor="middle">0.20</text>
<rect x="36.80" y="199.10" width="193.04" height="213.68" fill="none" stroke="#e2e2e2" stroke-width="0.5"/>
<line x1="48.86" x2="48.86" y1="412.78" y2="416.38" stroke="#bbb" stroke-width="0.5"/>
<line x1="48.86" x2="48.86" y1="196.70" y2="199.10" stroke="#ccc" stroke-width="0.5"/>
<text x="48.86" y="423.9" font-size="6.1" font-weight="bold" fill="#222" stroke="#222" stroke-width="0.12" text-anchor="middle">BACS</text>
<line x1="73.00" x2="73.00" y1="412.78" y2="416.38" stroke="#bbb" stroke-width="0.5"/>
<line x1="73.00" x2="73.00" y1="196.70" y2="199.10" stroke="#ccc" stroke-width="0.5"/>
<text x="73.00" y="423.9" font-size="6.1" font-weight="bold" fill="#222" stroke="#222" stroke-width="0.12" text-anchor="middle">BVMT</text>
<line x1="97.12" x2="97.12" y1="412.78" y2="416.38" stroke="#bbb" stroke-width="0.5"/>
<line x1="97.12" x2="97.12" y1="196.70" y2="199.10" stroke="#ccc" stroke-width="0.5"/>
<text x="97.12" y="423.9" font-size="6.1" font-weight="bold" fill="#222" stroke="#222" stroke-width="0.12" text-anchor="middle">CPT</text>
<line x1="121.25" x2="121.25" y1="412.78" y2="416.38" stroke="#bbb" stroke-width="0.5"/>
<line x1="121.25" x2="121.25" y1="196.70" y2="199.10" stroke="#ccc" stroke-width="0.5"/>
<text x="121.25" y="423.9" font-size="6.1" font-weight="bold" fill="#222" stroke="#222" stroke-width="0.12" text-anchor="middle">HVLT</text>
<line x1="145.38" x2="145.38" y1="412.78" y2="416.38" stroke="#bbb" stroke-width="0.5"/>
<line x1="145.38" x2="145.38" y1="196.70" y2="199.10" stroke="#ccc" stroke-width="0.5"/>
<text x="145.38" y="423.9" font-size="6.1" font-weight="bold" fill="#222" stroke="#222" stroke-width="0.12" text-anchor="middle">Maze</text>
<line x1="169.51" x2="169.51" y1="412.78" y2="416.38" stroke="#bbb" stroke-width="0.5"/>
<line x1="169.51" x2="169.51" y1="196.70" y2="199.10" stroke="#ccc" stroke-width="0.5"/>
<text x="169.51" y="423.9" font-size="6.1" font-weight="bold" fill="#222" stroke="#222" stroke-width="0.12" text-anchor="middle">TMT</text>
<line x1="193.64" x2="193.64" y1="412.78" y2="416.38" stroke="#bbb" stroke-width="0.5"/>
<line x1="193.64" x2="193.64" y1="196.70" y2="199.10" stroke="#ccc" stroke-width="0.5"/>
<text x="193.64" y="423.9" font-size="6.1" font-weight="bold" fill="#222" stroke="#222" stroke-width="0.12" text-anchor="middle">VFT</text>
<line x1="217.77" x2="217.77" y1="412.78" y2="416.38" stroke="#bbb" stroke-width="0.5"/>
<line x1="217.77" x2="217.77" y1="196.70" y2="199.10" stroke="#ccc" stroke-width="0.5"/>
<text x="217.77" y="423.9" font-size="6.1" font-weight="bold" fill="#222" stroke="#222" stroke-width="0.12" text-anchor="middle">WMS</text>
<line x1="33.20" x2="36.80" y1="212.45" y2="212.45" stroke="#bbb" stroke-width="0.5"/>
<line x1="229.84" x2="231.84" y1="212.45" y2="212.45" stroke="#ccc" stroke-width="0.5"/>
<text x="31.0" y="214.85" font-size="6.1" font-weight="bold" fill="#222" stroke="#222" stroke-width="0.12" text-anchor="end">WMS</text>
<line x1="33.20" x2="36.80" y1="239.16" y2="239.16" stroke="#bbb" stroke-width="0.5"/>
<line x1="229.84" x2="231.84" y1="239.16" y2="239.16" stroke="#ccc" stroke-width="0.5"/>
<text x="31.0" y="241.56" font-size="6.1" font-weight="bold" fill="#222" stroke="#222" stroke-width="0.12" text-anchor="end">VFT</text>
<line x1="33.20" x2="36.80" y1="265.88" y2="265.88" stroke="#bbb" stroke-width="0.5"/>
<line x1="229.84" x2="231.84" y1="265.88" y2="265.88" stroke="#ccc" stroke-width="0.5"/>
<text x="31.0" y="268.27" font-size="6.1" font-weight="bold" fill="#222" stroke="#222" stroke-width="0.12" text-anchor="end">TMT</text>
<line x1="33.20" x2="36.80" y1="292.58" y2="292.58" stroke="#bbb" stroke-width="0.5"/>
<line x1="229.84" x2="231.84" y1="292.58" y2="292.58" stroke="#ccc" stroke-width="0.5"/>
<text x="31.0" y="294.98" font-size="6.1" font-weight="bold" fill="#222" stroke="#222" stroke-width="0.12" text-anchor="end">Maze</text>
<line x1="33.20" x2="36.80" y1="319.30" y2="319.30" stroke="#bbb" stroke-width="0.5"/>
<line x1="229.84" x2="231.84" y1="319.30" y2="319.30" stroke="#ccc" stroke-width="0.5"/>
<text x="31.0" y="321.69" font-size="6.1" font-weight="bold" fill="#222" stroke="#222" stroke-width="0.12" text-anchor="end">HVLT</text>
<line x1="33.20" x2="36.80" y1="346.00" y2="346.00" stroke="#bbb" stroke-width="0.5"/>
<line x1="229.84" x2="231.84" y1="346.00" y2="346.00" stroke="#ccc" stroke-width="0.5"/>
<text x="31.0" y="348.40" font-size="6.1" font-weight="bold" fill="#222" stroke="#222" stroke-width="0.12" text-anchor="end">CPT</text>
<line x1="33.20" x2="36.80" y1="372.72" y2="372.72" stroke="#bbb" stroke-width="0.5"/>
<line x1="229.84" x2="231.84" y1="372.72" y2="372.72" stroke="#ccc" stroke-width="0.5"/>
<text x="31.0" y="375.12" font-size="6.1" font-weight="bold" fill="#222" stroke="#222" stroke-width="0.12" text-anchor="end">BVMT</text>
<line x1="33.20" x2="36.80" y1="399.43" y2="399.43" stroke="#bbb" stroke-width="0.5"/>
<line x1="229.84" x2="231.84" y1="399.43" y2="399.43" stroke="#ccc" stroke-width="0.5"/>
<text x="31.0" y="401.82" font-size="6.1" font-weight="bold" fill="#222" stroke="#222" stroke-width="0.12" text-anchor="end">BACS</text>
<text x="130.90" y="438.9" font-size="10.4" fill="#1a1a1a" text-anchor="middle" stroke="#1a1a1a" stroke-width="0.18">HC</text>
<rect x="244.30" y="199.10" width="24.13" height="26.71" fill="#f6e2e3"/>
<rect x="268.43" y="199.10" width="24.13" height="26.71" fill="#f3d9db"/>
<rect x="292.56" y="199.10" width="24.13" height="26.71" fill="#f5e0e1"/>
<rect x="316.69" y="199.10" width="24.13" height="26.71" fill="#efcdcf"/>
<rect x="340.82" y="199.10" width="24.13" height="26.71" fill="#f7e5e6"/>
<rect x="364.95" y="199.10" width="24.13" height="26.71" fill="#f6e3e4"/>
<rect x="389.08" y="199.10" width="24.13" height="26.71" fill="#f2d5d7"/>
<rect x="413.21" y="199.10" width="24.13" height="26.71" fill="#ffffff"/>
<rect x="244.30" y="225.81" width="24.13" height="26.71" fill="#e7b3b6"/>
<rect x="268.43" y="225.81" width="24.13" height="26.71" fill="#e4a9ac"/>
<rect x="292.56" y="225.81" width="24.13" height="26.71" fill="#e4aaad"/>
<rect x="316.69" y="225.81" width="24.13" height="26.71" fill="#e09ca0"/>
<rect x="340.82" y="225.81" width="24.13" height="26.71" fill="#e9b9bc"/>
<rect x="364.95" y="225.81" width="24.13" height="26.71" fill="#eabbbe"/>
<rect x="389.08" y="225.81" width="24.13" height="26.71" fill="#ffffff"/>
<rect x="413.21" y="225.81" width="24.13" height="26.71" fill="#e8b6b9"/>
<rect x="244.30" y="252.52" width="24.13" height="26.71" fill="#f8eaeb"/>
<rect x="268.43" y="252.52" width="24.13" height="26.71" fill="#f5dfe0"/>
<rect x="292.56" y="252.52" width="24.13" height="26.71" fill="#f7e6e7"/>
<rect x="316.69" y="252.52" width="24.13" height="26.71" fill="#f2d7d9"/>
<rect x="340.82" y="252.52" width="24.13" height="26.71" fill="#f9ebec"/>
<rect x="364.95" y="252.52" width="24.13" height="26.71" fill="#ffffff"/>
<rect x="389.08" y="252.52" width="24.13" height="26.71" fill="#f5e0e1"/>
<rect x="413.21" y="252.52" width="24.13" height="26.71" fill="#f9ebec"/>
<rect x="244.30" y="279.23" width="24.13" height="26.71" fill="#f7e6e7"/>
<rect x="268.43" y="279.23" width="24.13" height="26.71" fill="#f5dedf"/>
<rect x="292.56" y="279.23" width="24.13" height="26.71" fill="#f5e0e1"/>
<rect x="316.69" y="279.23" width="24.13" height="26.71" fill="#f1d1d3"/>
<rect x="340.82" y="279.23" width="24.13" height="26.71" fill="#ffffff"/>
<rect x="364.95" y="279.23" width="24.13" height="26.71" fill="#f8eaeb"/>
<rect x="389.08" y="279.23" width="24.13" height="26.71" fill="#f4dbdc"/>
<rect x="413.21" y="279.23" width="24.13" height="26.71" fill="#f9ebec"/>
<rect x="244.30" y="305.94" width="24.13" height="26.71" fill="#eecacc"/>
<rect x="268.43" y="305.94" width="24.13" height="26.71" fill="#edc5c7"/>
<rect x="292.56" y="305.94" width="24.13" height="26.71" fill="#ecc3c5"/>
<rect x="316.69" y="305.94" width="24.13" height="26.71" fill="#ffffff"/>
<rect x="340.82" y="305.94" width="24.13" height="26.71" fill="#edc5c7"/>
<rect x="364.95" y="305.94" width="24.13" height="26.71" fill="#edc4c6"/>
<rect x="389.08" y="305.94" width="24.13" height="26.71" fill="#ebbfc2"/>
<rect x="413.21" y="305.94" width="24.13" height="26.71" fill="#efccce"/>
<rect x="244.30" y="332.65" width="24.13" height="26.71" fill="#f7e5e6"/>
<rect x="268.43" y="332.65" width="24.13" height="26.71" fill="#f2d5d7"/>
<rect x="292.56" y="332.65" width="24.13" height="26.71" fill="#ffffff"/>
<rect x="316.69" y="332.65" width="24.13" height="26.71" fill="#efcbcd"/>
<rect x="340.82" y="332.65" width="24.13" height="26.71" fill="#f4ddde"/>
<rect x="364.95" y="332.65" width="24.13" height="26.71" fill="#f7e4e5"/>
<rect x="389.08" y="332.65" width="24.13" height="26.71" fill="#f1d3d5"/>
<rect x="413.21" y="332.65" width="24.13" height="26.71" fill="#f7e6e7"/>
<rect x="244.30" y="359.36" width="24.13" height="26.71" fill="#f5dedf"/>
<rect x="268.43" y="359.36" width="24.13" height="26.71" fill="#ffffff"/>
<rect x="292.56" y="359.36" width="24.13" height="26.71" fill="#f1d3d5"/>
<rect x="316.69" y="359.36" width="24.13" height="26.71" fill="#edc6c8"/>
<rect x="340.82" y="359.36" width="24.13" height="26.71" fill="#f4dcdd"/>
<rect x="364.95" y="359.36" width="24.13" height="26.71" fill="#f2d6d8"/>
<rect x="389.08" y="359.36" width="24.13" height="26.71" fill="#efcdcf"/>
<rect x="413.21" y="359.36" width="24.13" height="26.71" fill="#f5dfe0"/>
<rect x="244.30" y="386.07" width="24.13" height="26.71" fill="#ffffff"/>
<rect x="268.43" y="386.07" width="24.13" height="26.71" fill="#f1d2d4"/>
<rect x="292.56" y="386.07" width="24.13" height="26.71" fill="#f4dcdd"/>
<rect x="316.69" y="386.07" width="24.13" height="26.71" fill="#ebbfc2"/>
<rect x="340.82" y="386.07" width="24.13" height="26.71" fill="#f4ddde"/>
<rect x="364.95" y="386.07" width="24.13" height="26.71" fill="#f6e2e3"/>
<rect x="389.08" y="386.07" width="24.13" height="26.71" fill="#eec9cb"/>
<rect x="413.21" y="386.07" width="24.13" height="26.71" fill="#f5e0e1"/>
<line x1="268.43" x2="268.43" y1="199.10" y2="412.78" stroke="#fff" stroke-opacity="0.35" stroke-width="0.5"/>
<line x1="244.30" x2="437.34" y1="225.81" y2="225.81" stroke="#fff" stroke-opacity="0.35" stroke-width="0.5"/>
<line x1="292.56" x2="292.56" y1="199.10" y2="412.78" stroke="#fff" stroke-opacity="0.35" stroke-width="0.5"/>
<line x1="244.30" x2="437.34" y1="252.52" y2="252.52" stroke="#fff" stroke-opacity="0.35" stroke-width="0.5"/>
<line x1="316.69" x2="316.69" y1="199.10" y2="412.78" stroke="#fff" stroke-opacity="0.35" stroke-width="0.5"/>
<line x1="244.30" x2="437.34" y1="279.23" y2="279.23" stroke="#fff" stroke-opacity="0.35" stroke-width="0.5"/>
<line x1="340.82" x2="340.82" y1="199.10" y2="412.78" stroke="#fff" stroke-opacity="0.35" stroke-width="0.5"/>
<line x1="244.30" x2="437.34" y1="305.94" y2="305.94" stroke="#fff" stroke-opacity="0.35" stroke-width="0.5"/>
<line x1="364.95" x2="364.95" y1="199.10" y2="412.78" stroke="#fff" stroke-opacity="0.35" stroke-width="0.5"/>
<line x1="244.30" x2="437.34" y1="332.65" y2="332.65" stroke="#fff" stroke-opacity="0.35" stroke-width="0.5"/>
<line x1="389.08" x2="389.08" y1="199.10" y2="412.78" stroke="#fff" stroke-opacity="0.35" stroke-width="0.5"/>
<line x1="244.30" x2="437.34" y1="359.36" y2="359.36" stroke="#fff" stroke-opacity="0.35" stroke-width="0.5"/>
<line x1="413.21" x2="413.21" y1="199.10" y2="412.78" stroke="#fff" stroke-opacity="0.35" stroke-width="0.5"/>
<line x1="244.30" x2="437.34" y1="386.07" y2="386.07" stroke="#fff" stroke-opacity="0.35" stroke-width="0.5"/>
<text x="256.37" y="215.05" font-size="6.2" font-weight="bold" fill="#1a1a1a" stroke="#1a1a1a" stroke-width="0.1" text-anchor="middle">0.29</text>
<text x="280.50" y="215.05" font-size="6.2" font-weight="bold" fill="#1a1a1a" stroke="#1a1a1a" stroke-width="0.1" text-anchor="middle">0.38</text>
<text x="304.62" y="215.05" font-size="6.2" font-weight="bold" fill="#1a1a1a" stroke="#1a1a1a" stroke-width="0.1" text-anchor="middle">0.31</text>
<text x="328.75" y="215.05" font-size="6.2" font-weight="bold" fill="#1a1a1a" stroke="#1a1a1a" stroke-width="0.1" text-anchor="middle">0.50</text>
<text x="352.88" y="215.05" font-size="6.2" font-weight="bold" fill="#1a1a1a" stroke="#1a1a1a" stroke-width="0.1" text-anchor="middle">0.26</text>
<text x="377.01" y="215.05" font-size="6.2" font-weight="bold" fill="#1a1a1a" stroke="#1a1a1a" stroke-width="0.1" text-anchor="middle">0.28</text>
<text x="401.14" y="215.05" font-size="6.2" font-weight="bold" fill="#1a1a1a" stroke="#1a1a1a" stroke-width="0.1" text-anchor="middle">0.42</text>
<text x="256.37" y="241.76" font-size="6.2" font-weight="bold" fill="#1a1a1a" stroke="#1a1a1a" stroke-width="0.1" text-anchor="middle">0.76</text>
<text x="280.50" y="241.76" font-size="6.2" font-weight="bold" fill="#1a1a1a" stroke="#1a1a1a" stroke-width="0.1" text-anchor="middle">0.86</text>
<text x="304.62" y="241.76" font-size="6.2" font-weight="bold" fill="#1a1a1a" stroke="#1a1a1a" stroke-width="0.1" text-anchor="middle">0.85</text>
<text x="328.75" y="241.76" font-size="6.2" font-weight="bold" fill="#1a1a1a" stroke="#1a1a1a" stroke-width="0.1" text-anchor="middle">0.99</text>
<text x="352.88" y="241.76" font-size="6.2" font-weight="bold" fill="#1a1a1a" stroke="#1a1a1a" stroke-width="0.1" text-anchor="middle">0.70</text>
<text x="377.01" y="241.76" font-size="6.2" font-weight="bold" fill="#1a1a1a" stroke="#1a1a1a" stroke-width="0.1" text-anchor="middle">0.68</text>
<text x="425.27" y="241.76" font-size="6.2" font-weight="bold" fill="#1a1a1a" stroke="#1a1a1a" stroke-width="0.1" text-anchor="middle">0.73</text>
<text x="256.37" y="268.48" font-size="6.2" font-weight="bold" fill="#1a1a1a" stroke="#1a1a1a" stroke-width="0.1" text-anchor="middle">0.21</text>
<text x="280.50" y="268.48" font-size="6.2" font-weight="bold" fill="#1a1a1a" stroke="#1a1a1a" stroke-width="0.1" text-anchor="middle">0.32</text>
<text x="304.62" y="268.48" font-size="6.2" font-weight="bold" fill="#1a1a1a" stroke="#1a1a1a" stroke-width="0.1" text-anchor="middle">0.25</text>
<text x="328.75" y="268.48" font-size="6.2" font-weight="bold" fill="#1a1a1a" stroke="#1a1a1a" stroke-width="0.1" text-anchor="middle">0.40</text>
<text x="352.88" y="268.48" font-size="6.2" font-weight="bold" fill="#1a1a1a" stroke="#1a1a1a" stroke-width="0.1" text-anchor="middle">0.20</text>
<text x="401.14" y="268.48" font-size="6.2" font-weight="bold" fill="#1a1a1a" stroke="#1a1a1a" stroke-width="0.1" text-anchor="middle">0.31</text>
<text x="425.27" y="268.48" font-size="6.2" font-weight="bold" fill="#1a1a1a" stroke="#1a1a1a" stroke-width="0.1" text-anchor="middle">0.20</text>
<text x="256.37" y="295.19" font-size="6.2" font-weight="bold" fill="#1a1a1a" stroke="#1a1a1a" stroke-width="0.1" text-anchor="middle">0.25</text>
<text x="280.50" y="295.19" font-size="6.2" font-weight="bold" fill="#1a1a1a" stroke="#1a1a1a" stroke-width="0.1" text-anchor="middle">0.33</text>
<text x="304.62" y="295.19" font-size="6.2" font-weight="bold" fill="#1a1a1a" stroke="#1a1a1a" stroke-width="0.1" text-anchor="middle">0.31</text>
<text x="328.75" y="295.19" font-size="6.2" font-weight="bold" fill="#1a1a1a" stroke="#1a1a1a" stroke-width="0.1" text-anchor="middle">0.46</text>
<text x="377.01" y="295.19" font-size="6.2" font-weight="bold" fill="#1a1a1a" stroke="#1a1a1a" stroke-width="0.1" text-anchor="middle">0.21</text>
<text x="401.14" y="295.19" font-size="6.2" font-weight="bold" fill="#1a1a1a" stroke="#1a1a1a" stroke-width="0.1" text-anchor="middle">0.36</text>
<text x="425.27" y="295.19" font-size="6.2" font-weight="bold" fill="#1a1a1a" stroke="#1a1a1a" stroke-width="0.1" text-anchor="middle">0.20</text>
<text x="256.37" y="321.90" font-size="6.2" font-weight="bold" fill="#1a1a1a" stroke="#1a1a1a" stroke-width="0.1" text-anchor="middle">0.53</text>
<text x="280.50" y="321.90" font-size="6.2" font-weight="bold" fill="#1a1a1a" stroke="#1a1a1a" stroke-width="0.1" text-anchor="middle">0.58</text>
<text x="304.62" y="321.90" font-size="6.2" font-weight="bold" fill="#1a1a1a" stroke="#1a1a1a" stroke-width="0.1" text-anchor="middle">0.60</text>
<text x="352.88" y="321.90" font-size="6.2" font-weight="bold" fill="#1a1a1a" stroke="#1a1a1a" stroke-width="0.1" text-anchor="middle">0.58</text>
<text x="377.01" y="321.90" font-size="6.2" font-weight="bold" fill="#1a1a1a" stroke="#1a1a1a" stroke-width="0.1" text-anchor="middle">0.59</text>
<text x="401.14" y="321.90" font-size="6.2" font-weight="bold" fill="#1a1a1a" stroke="#1a1a1a" stroke-width="0.1" text-anchor="middle">0.64</text>
<text x="425.27" y="321.90" font-size="6.2" font-weight="bold" fill="#1a1a1a" stroke="#1a1a1a" stroke-width="0.1" text-anchor="middle">0.51</text>
<text x="256.37" y="348.61" font-size="6.2" font-weight="bold" fill="#1a1a1a" stroke="#1a1a1a" stroke-width="0.1" text-anchor="middle">0.26</text>
<text x="280.50" y="348.61" font-size="6.2" font-weight="bold" fill="#1a1a1a" stroke="#1a1a1a" stroke-width="0.1" text-anchor="middle">0.42</text>
<text x="328.75" y="348.61" font-size="6.2" font-weight="bold" fill="#1a1a1a" stroke="#1a1a1a" stroke-width="0.1" text-anchor="middle">0.52</text>
<text x="352.88" y="348.61" font-size="6.2" font-weight="bold" fill="#1a1a1a" stroke="#1a1a1a" stroke-width="0.1" text-anchor="middle">0.34</text>
<text x="377.01" y="348.61" font-size="6.2" font-weight="bold" fill="#1a1a1a" stroke="#1a1a1a" stroke-width="0.1" text-anchor="middle">0.27</text>
<text x="401.14" y="348.61" font-size="6.2" font-weight="bold" fill="#1a1a1a" stroke="#1a1a1a" stroke-width="0.1" text-anchor="middle">0.44</text>
<text x="425.27" y="348.61" font-size="6.2" font-weight="bold" fill="#1a1a1a" stroke="#1a1a1a" stroke-width="0.1" text-anchor="middle">0.25</text>
<text x="256.37" y="375.32" font-size="6.2" font-weight="bold" fill="#1a1a1a" stroke="#1a1a1a" stroke-width="0.1" text-anchor="middle">0.33</text>
<text x="304.62" y="375.32" font-size="6.2" font-weight="bold" fill="#1a1a1a" stroke="#1a1a1a" stroke-width="0.1" text-anchor="middle">0.44</text>
<text x="328.75" y="375.32" font-size="6.2" font-weight="bold" fill="#1a1a1a" stroke="#1a1a1a" stroke-width="0.1" text-anchor="middle">0.57</text>
<text x="352.88" y="375.32" font-size="6.2" font-weight="bold" fill="#1a1a1a" stroke="#1a1a1a" stroke-width="0.1" text-anchor="middle">0.35</text>
<text x="377.01" y="375.32" font-size="6.2" font-weight="bold" fill="#1a1a1a" stroke="#1a1a1a" stroke-width="0.1" text-anchor="middle">0.41</text>
<text x="401.14" y="375.32" font-size="6.2" font-weight="bold" fill="#1a1a1a" stroke="#1a1a1a" stroke-width="0.1" text-anchor="middle">0.50</text>
<text x="425.27" y="375.32" font-size="6.2" font-weight="bold" fill="#1a1a1a" stroke="#1a1a1a" stroke-width="0.1" text-anchor="middle">0.32</text>
<text x="280.50" y="402.03" font-size="6.2" font-weight="bold" fill="#1a1a1a" stroke="#1a1a1a" stroke-width="0.1" text-anchor="middle">0.45</text>
<text x="304.62" y="402.03" font-size="6.2" font-weight="bold" fill="#1a1a1a" stroke="#1a1a1a" stroke-width="0.1" text-anchor="middle">0.35</text>
<text x="328.75" y="402.03" font-size="6.2" font-weight="bold" fill="#1a1a1a" stroke="#1a1a1a" stroke-width="0.1" text-anchor="middle">0.64</text>
<text x="352.88" y="402.03" font-size="6.2" font-weight="bold" fill="#1a1a1a" stroke="#1a1a1a" stroke-width="0.1" text-anchor="middle">0.34</text>
<text x="377.01" y="402.03" font-size="6.2" font-weight="bold" fill="#1a1a1a" stroke="#1a1a1a" stroke-width="0.1" text-anchor="middle">0.29</text>
<text x="401.14" y="402.03" font-size="6.2" font-weight="bold" fill="#1a1a1a" stroke="#1a1a1a" stroke-width="0.1" text-anchor="middle">0.54</text>
<text x="425.27" y="402.03" font-size="6.2" font-weight="bold" fill="#1a1a1a" stroke="#1a1a1a" stroke-width="0.1" text-anchor="middle">0.31</text>
<rect x="244.30" y="199.10" width="193.04" height="213.68" fill="none" stroke="#e2e2e2" stroke-width="0.5"/>
<line x1="256.37" x2="256.37" y1="412.78" y2="416.38" stroke="#bbb" stroke-width="0.5"/>
<line x1="256.37" x2="256.37" y1="196.70" y2="199.10" stroke="#ccc" stroke-width="0.5"/>
<text x="256.37" y="423.9" font-size="6.1" font-weight="bold" fill="#222" stroke="#222" stroke-width="0.12" text-anchor="middle">BACS</text>
<line x1="280.50" x2="280.50" y1="412.78" y2="416.38" stroke="#bbb" stroke-width="0.5"/>
<line x1="280.50" x2="280.50" y1="196.70" y2="199.10" stroke="#ccc" stroke-width="0.5"/>
<text x="280.50" y="423.9" font-size="6.1" font-weight="bold" fill="#222" stroke="#222" stroke-width="0.12" text-anchor="middle">BVMT</text>
<line x1="304.62" x2="304.62" y1="412.78" y2="416.38" stroke="#bbb" stroke-width="0.5"/>
<line x1="304.62" x2="304.62" y1="196.70" y2="199.10" stroke="#ccc" stroke-width="0.5"/>
<text x="304.62" y="423.9" font-size="6.1" font-weight="bold" fill="#222" stroke="#222" stroke-width="0.12" text-anchor="middle">CPT</text>
<line x1="328.75" x2="328.75" y1="412.78" y2="416.38" stroke="#bbb" stroke-width="0.5"/>
<line x1="328.75" x2="328.75" y1="196.70" y2="199.10" stroke="#ccc" stroke-width="0.5"/>
<text x="328.75" y="423.9" font-size="6.1" font-weight="bold" fill="#222" stroke="#222" stroke-width="0.12" text-anchor="middle">HVLT</text>
<line x1="352.88" x2="352.88" y1="412.78" y2="416.38" stroke="#bbb" stroke-width="0.5"/>
<line x1="352.88" x2="352.88" y1="196.70" y2="199.10" stroke="#ccc" stroke-width="0.5"/>
<text x="352.88" y="423.9" font-size="6.1" font-weight="bold" fill="#222" stroke="#222" stroke-width="0.12" text-anchor="middle">Maze</text>
<line x1="377.01" x2="377.01" y1="412.78" y2="416.38" stroke="#bbb" stroke-width="0.5"/>
<line x1="377.01" x2="377.01" y1="196.70" y2="199.10" stroke="#ccc" stroke-width="0.5"/>
<text x="377.01" y="423.9" font-size="6.1" font-weight="bold" fill="#222" stroke="#222" stroke-width="0.12" text-anchor="middle">TMT</text>
<line x1="401.14" x2="401.14" y1="412.78" y2="416.38" stroke="#bbb" stroke-width="0.5"/>
<line x1="401.14" x2="401.14" y1="196.70" y2="199.10" stroke="#ccc" stroke-width="0.5"/>
<text x="401.14" y="423.9" font-size="6.1" font-weight="bold" fill="#222" stroke="#222" stroke-width="0.12" text-anchor="middle">VFT</text>
<line x1="425.27" x2="425.27" y1="412.78" y2="416.38" stroke="#bbb" stroke-width="0.5"/>
<line x1="425.27" x2="425.27" y1="196.70" y2="199.10" stroke="#ccc" stroke-width="0.5"/>
<text x="425.27" y="423.9" font-size="6.1" font-weight="bold" fill="#222" stroke="#222" stroke-width="0.12" text-anchor="middle">WMS</text>
<line x1="240.70" x2="244.30" y1="212.45" y2="212.45" stroke="#bbb" stroke-width="0.5"/>
<line x1="437.34" x2="439.34" y1="212.45" y2="212.45" stroke="#ccc" stroke-width="0.5"/>
<line x1="240.00" x2="242.30" y1="212.45" y2="212.45" stroke="#888" stroke-width="0.6"/>
<line x1="240.70" x2="244.30" y1="239.16" y2="239.16" stroke="#bbb" stroke-width="0.5"/>
<line x1="437.34" x2="439.34" y1="239.16" y2="239.16" stroke="#ccc" stroke-width="0.5"/>
<line x1="240.00" x2="242.30" y1="239.16" y2="239.16" stroke="#888" stroke-width="0.6"/>
<line x1="240.70" x2="244.30" y1="265.88" y2="265.88" stroke="#bbb" stroke-width="0.5"/>
<line x1="437.34" x2="439.34" y1="265.88" y2="265.88" stroke="#ccc" stroke-width="0.5"/>
<line x1="240.00" x2="242.30" y1="265.88" y2="265.88" stroke="#888" stroke-width="0.6"/>
<line x1="240.70" x2="244.30" y1="292.58" y2="292.58" stroke="#bbb" stroke-width="0.5"/>
<line x1="437.34" x2="439.34" y1="292.58" y2="292.58" stroke="#ccc" stroke-width="0.5"/>
<line x1="240.00" x2="242.30" y1="292.58" y2="292.58" stroke="#888" stroke-width="0.6"/>
<line x1="240.70" x2="244.30" y1="319.30" y2="319.30" stroke="#bbb" stroke-width="0.5"/>
<line x1="437.34" x2="439.34" y1="319.30" y2="319.30" stroke="#ccc" stroke-width="0.5"/>
<line x1="240.00" x2="242.30" y1="319.30" y2="319.30" stroke="#888" stroke-width="0.6"/>
<line x1="240.70" x2="244.30" y1="346.00" y2="346.00" stroke="#bbb" stroke-width="0.5"/>
<line x1="437.34" x2="439.34" y1="346.00" y2="346.00" stroke="#ccc" stroke-width="0.5"/>
<line x1="240.00" x2="242.30" y1="346.00" y2="346.00" stroke="#888" stroke-width="0.6"/>
<line x1="240.70" x2="244.30" y1="372.72" y2="372.72" stroke="#bbb" stroke-width="0.5"/>
<line x1="437.34" x2="439.34" y1="372.72" y2="372.72" stroke="#ccc" stroke-width="0.5"/>
<line x1="240.00" x2="242.30" y1="372.72" y2="372.72" stroke="#888" stroke-width="0.6"/>
<line x1="240.70" x2="244.30" y1="399.43" y2="399.43" stroke="#bbb" stroke-width="0.5"/>
<line x1="437.34" x2="439.34" y1="399.43" y2="399.43" stroke="#ccc" stroke-width="0.5"/>
<line x1="240.00" x2="242.30" y1="399.43" y2="399.43" stroke="#888" stroke-width="0.6"/>
<text x="340.50" y="438.9" font-size="10.4" fill="#1a1a1a" text-anchor="middle" stroke="#1a1a1a" stroke-width="0.18">CHR</text>
<rect x="452.20" y="199.10" width="24.13" height="26.71" fill="#f4ddde"/>
<rect x="476.33" y="199.10" width="24.13" height="26.71" fill="#f2d6d8"/>
<rect x="500.46" y="199.10" width="24.13" height="26.71" fill="#f3d9db"/>
<rect x="524.59" y="199.10" width="24.13" height="26.71" fill="#eec8ca"/>
<rect x="548.72" y="199.10" width="24.13" height="26.71" fill="#f6e1e2"/>
<rect x="572.85" y="199.10" width="24.13" height="26.71" fill="#f3dadb"/>
<rect x="596.98" y="199.10" width="24.13" height="26.71" fill="#f2d7d9"/>
<rect x="621.11" y="199.10" width="24.13" height="26.71" fill="#ffffff"/>
<rect x="452.20" y="225.81" width="24.13" height="26.71" fill="#dd9498"/>
<rect x="476.33" y="225.81" width="24.13" height="26.71" fill="#d4757b"/>
<rect x="500.46" y="225.81" width="24.13" height="26.71" fill="#db8c91"/>
<rect x="524.59" y="225.81" width="24.13" height="26.71" fill="#d37278"/>
<rect x="548.72" y="225.81" width="24.13" height="26.71" fill="#e09da1"/>
<rect x="572.85" y="225.81" width="24.13" height="26.71" fill="#dd9195"/>
<rect x="596.98" y="225.81" width="24.13" height="26.71" fill="#ffffff"/>
<rect x="621.11" y="225.81" width="24.13" height="26.71" fill="#e5acaf"/>
<rect x="452.20" y="252.52" width="24.13" height="26.71" fill="#fcf4f4"/>
<rect x="476.33" y="252.52" width="24.13" height="26.71" fill="#faf0f1"/>
<rect x="500.46" y="252.52" width="24.13" height="26.71" fill="#fbf2f3"/>
<rect x="524.59" y="252.52" width="24.13" height="26.71" fill="#f9eced"/>
<rect x="548.72" y="252.52" width="24.13" height="26.71" fill="#fcf5f5"/>
<rect x="572.85" y="252.52" width="24.13" height="26.71" fill="#ffffff"/>
<rect x="596.98" y="252.52" width="24.13" height="26.71" fill="#fbf1f2"/>
<rect x="621.11" y="252.52" width="24.13" height="26.71" fill="#fcf6f6"/>
<rect x="452.20" y="279.23" width="24.13" height="26.71" fill="#f6e3e4"/>
<rect x="476.33" y="279.23" width="24.13" height="26.71" fill="#f4dbdc"/>
<rect x="500.46" y="279.23" width="24.13" height="26.71" fill="#f5dfe0"/>
<rect x="524.59" y="279.23" width="24.13" height="26.71" fill="#f0ced0"/>
<rect x="548.72" y="279.23" width="24.13" height="26.71" fill="#ffffff"/>
<rect x="572.85" y="279.23" width="24.13" height="26.71" fill="#f9ebec"/>
<rect x="596.98" y="279.23" width="24.13" height="26.71" fill="#f4dcdd"/>
<rect x="621.11" y="279.23" width="24.13" height="26.71" fill="#f9ebec"/>
<rect x="452.20" y="305.94" width="24.13" height="26.71" fill="#eecacc"/>
<rect x="476.33" y="305.94" width="24.13" height="26.71" fill="#efcbcd"/>
<rect x="500.46" y="305.94" width="24.13" height="26.71" fill="#ecc3c5"/>
<rect x="524.59" y="305.94" width="24.13" height="26.71" fill="#ffffff"/>
<rect x="548.72" y="305.94" width="24.13" height="26.71" fill="#edc4c6"/>
<rect x="572.85" y="305.94" width="24.13" height="26.71" fill="#ecc3c5"/>
<rect x="596.98" y="305.94" width="24.13" height="26.71" fill="#ecc3c5"/>
<rect x="621.11" y="305.94" width="24.13" height="26.71" fill="#f2d4d6"/>
<rect x="452.20" y="332.65" width="24.13" height="26.71" fill="#f4dbdc"/>
<rect x="476.33" y="332.65" width="24.13" height="26.71" fill="#f0ced0"/>
<rect x="500.46" y="332.65" width="24.13" height="26.71" fill="#ffffff"/>
<rect x="524.59" y="332.65" width="24.13" height="26.71" fill="#eabcbf"/>
<rect x="548.72" y="332.65" width="24.13" height="26.71" fill="#f3d8da"/>
<rect x="572.85" y="332.65" width="24.13" height="26.71" fill="#f4ddde"/>
<rect x="596.98" y="332.65" width="24.13" height="26.71" fill="#efcbcd"/>
<rect x="621.11" y="332.65" width="24.13" height="26.71" fill="#f5e0e1"/>
<rect x="452.20" y="359.36" width="24.13" height="26.71" fill="#f5dedf"/>
<rect x="476.33" y="359.36" width="24.13" height="26.71" fill="#ffffff"/>
<rect x="500.46" y="359.36" width="24.13" height="26.71" fill="#f3d9db"/>
<rect x="524.59" y="359.36" width="24.13" height="26.71" fill="#f0ced0"/>
<rect x="548.72" y="359.36" width="24.13" height="26.71" fill="#f5dedf"/>
<rect x="572.85" y="359.36" width="24.13" height="26.71" fill="#f3dadb"/>
<rect x="596.98" y="359.36" width="24.13" height="26.71" fill="#f1d3d5"/>
<rect x="621.11" y="359.36" width="24.13" height="26.71" fill="#f7e7e8"/>
<rect x="452.20" y="386.07" width="24.13" height="26.71" fill="#ffffff"/>
<rect x="476.33" y="386.07" width="24.13" height="26.71" fill="#f0ced0"/>
<rect x="500.46" y="386.07" width="24.13" height="26.71" fill="#f2d7d9"/>
<rect x="524.59" y="386.07" width="24.13" height="26.71" fill="#e9babd"/>
<rect x="548.72" y="386.07" width="24.13" height="26.71" fill="#f4ddde"/>
<rect x="572.85" y="386.07" width="24.13" height="26.71" fill="#faf0f1"/>
<rect x="596.98" y="386.07" width="24.13" height="26.71" fill="#eec8ca"/>
<rect x="621.11" y="386.07" width="24.13" height="26.71" fill="#f6e1e2"/>
<line x1="476.33" x2="476.33" y1="199.10" y2="412.78" stroke="#fff" stroke-opacity="0.35" stroke-width="0.5"/>
<line x1="452.20" x2="645.24" y1="225.81" y2="225.81" stroke="#fff" stroke-opacity="0.35" stroke-width="0.5"/>
<line x1="500.46" x2="500.46" y1="199.10" y2="412.78" stroke="#fff" stroke-opacity="0.35" stroke-width="0.5"/>
<line x1="452.20" x2="645.24" y1="252.52" y2="252.52" stroke="#fff" stroke-opacity="0.35" stroke-width="0.5"/>
<line x1="524.59" x2="524.59" y1="199.10" y2="412.78" stroke="#fff" stroke-opacity="0.35" stroke-width="0.5"/>
<line x1="452.20" x2="645.24" y1="279.23" y2="279.23" stroke="#fff" stroke-opacity="0.35" stroke-width="0.5"/>
<line x1="548.72" x2="548.72" y1="199.10" y2="412.78" stroke="#fff" stroke-opacity="0.35" stroke-width="0.5"/>
<line x1="452.20" x2="645.24" y1="305.94" y2="305.94" stroke="#fff" stroke-opacity="0.35" stroke-width="0.5"/>
<line x1="572.85" x2="572.85" y1="199.10" y2="412.78" stroke="#fff" stroke-opacity="0.35" stroke-width="0.5"/>
<line x1="452.20" x2="645.24" y1="332.65" y2="332.65" stroke="#fff" stroke-opacity="0.35" stroke-width="0.5"/>
<line x1="596.98" x2="596.98" y1="199.10" y2="412.78" stroke="#fff" stroke-opacity="0.35" stroke-width="0.5"/>
<line x1="452.20" x2="645.24" y1="359.36" y2="359.36" stroke="#fff" stroke-opacity="0.35" stroke-width="0.5"/>
<line x1="621.11" x2="621.11" y1="199.10" y2="412.78" stroke="#fff" stroke-opacity="0.35" stroke-width="0.5"/>
<line x1="452.20" x2="645.24" y1="386.07" y2="386.07" stroke="#fff" stroke-opacity="0.35" stroke-width="0.5"/>
<text x="464.26" y="215.05" font-size="6.2" font-weight="bold" fill="#1a1a1a" stroke="#1a1a1a" stroke-width="0.1" text-anchor="middle">0.34</text>
<text x="488.39" y="215.05" font-size="6.2" font-weight="bold" fill="#1a1a1a" stroke="#1a1a1a" stroke-width="0.1" text-anchor="middle">0.41</text>
<text x="512.52" y="215.05" font-size="6.2" font-weight="bold" fill="#1a1a1a" stroke="#1a1a1a" stroke-width="0.1" text-anchor="middle">0.38</text>
<text x="536.65" y="215.05" font-size="6.2" font-weight="bold" fill="#1a1a1a" stroke="#1a1a1a" stroke-width="0.1" text-anchor="middle">0.55</text>
<text x="560.78" y="215.05" font-size="6.2" font-weight="bold" fill="#1a1a1a" stroke="#1a1a1a" stroke-width="0.1" text-anchor="middle">0.30</text>
<text x="584.91" y="215.05" font-size="6.2" font-weight="bold" fill="#1a1a1a" stroke="#1a1a1a" stroke-width="0.1" text-anchor="middle">0.37</text>
<text x="609.04" y="215.05" font-size="6.2" font-weight="bold" fill="#1a1a1a" stroke="#1a1a1a" stroke-width="0.1" text-anchor="middle">0.40</text>
<text x="464.26" y="241.76" font-size="6.2" font-weight="bold" fill="#1a1a1a" stroke="#1a1a1a" stroke-width="0.1" text-anchor="middle">1.07</text>
<text x="488.39" y="241.76" font-size="6.2" font-weight="bold" fill="#1a1a1a" stroke="#1a1a1a" stroke-width="0.1" text-anchor="middle">1.38</text>
<text x="512.52" y="241.76" font-size="6.2" font-weight="bold" fill="#1a1a1a" stroke="#1a1a1a" stroke-width="0.1" text-anchor="middle">1.15</text>
<text x="536.65" y="241.76" font-size="6.2" font-weight="bold" fill="#1a1a1a" stroke="#1a1a1a" stroke-width="0.1" text-anchor="middle">1.41</text>
<text x="560.78" y="241.76" font-size="6.2" font-weight="bold" fill="#1a1a1a" stroke="#1a1a1a" stroke-width="0.1" text-anchor="middle">0.98</text>
<text x="584.91" y="241.76" font-size="6.2" font-weight="bold" fill="#1a1a1a" stroke="#1a1a1a" stroke-width="0.1" text-anchor="middle">1.10</text>
<text x="633.17" y="241.76" font-size="6.2" font-weight="bold" fill="#1a1a1a" stroke="#1a1a1a" stroke-width="0.1" text-anchor="middle">0.83</text>
<text x="464.26" y="268.48" font-size="6.2" font-weight="bold" fill="#1a1a1a" stroke="#1a1a1a" stroke-width="0.1" text-anchor="middle">0.11</text>
<text x="488.39" y="268.48" font-size="6.2" font-weight="bold" fill="#1a1a1a" stroke="#1a1a1a" stroke-width="0.1" text-anchor="middle">0.15</text>
<text x="512.52" y="268.48" font-size="6.2" font-weight="bold" fill="#1a1a1a" stroke="#1a1a1a" stroke-width="0.1" text-anchor="middle">0.13</text>
<text x="536.65" y="268.48" font-size="6.2" font-weight="bold" fill="#1a1a1a" stroke="#1a1a1a" stroke-width="0.1" text-anchor="middle">0.19</text>
<text x="560.78" y="268.48" font-size="6.2" font-weight="bold" fill="#1a1a1a" stroke="#1a1a1a" stroke-width="0.1" text-anchor="middle">0.10</text>
<text x="609.04" y="268.48" font-size="6.2" font-weight="bold" fill="#1a1a1a" stroke="#1a1a1a" stroke-width="0.1" text-anchor="middle">0.14</text>
<text x="633.17" y="268.48" font-size="6.2" font-weight="bold" fill="#1a1a1a" stroke="#1a1a1a" stroke-width="0.1" text-anchor="middle">0.09</text>
<text x="464.26" y="295.19" font-size="6.2" font-weight="bold" fill="#1a1a1a" stroke="#1a1a1a" stroke-width="0.1" text-anchor="middle">0.28</text>
<text x="488.39" y="295.19" font-size="6.2" font-weight="bold" fill="#1a1a1a" stroke="#1a1a1a" stroke-width="0.1" text-anchor="middle">0.36</text>
<text x="512.52" y="295.19" font-size="6.2" font-weight="bold" fill="#1a1a1a" stroke="#1a1a1a" stroke-width="0.1" text-anchor="middle">0.32</text>
<text x="536.65" y="295.19" font-size="6.2" font-weight="bold" fill="#1a1a1a" stroke="#1a1a1a" stroke-width="0.1" text-anchor="middle">0.49</text>
<text x="584.91" y="295.19" font-size="6.2" font-weight="bold" fill="#1a1a1a" stroke="#1a1a1a" stroke-width="0.1" text-anchor="middle">0.20</text>
<text x="609.04" y="295.19" font-size="6.2" font-weight="bold" fill="#1a1a1a" stroke="#1a1a1a" stroke-width="0.1" text-anchor="middle">0.35</text>
<text x="633.17" y="295.19" font-size="6.2" font-weight="bold" fill="#1a1a1a" stroke="#1a1a1a" stroke-width="0.1" text-anchor="middle">0.20</text>
<text x="464.26" y="321.90" font-size="6.2" font-weight="bold" fill="#1a1a1a" stroke="#1a1a1a" stroke-width="0.1" text-anchor="middle">0.53</text>
<text x="488.39" y="321.90" font-size="6.2" font-weight="bold" fill="#1a1a1a" stroke="#1a1a1a" stroke-width="0.1" text-anchor="middle">0.52</text>
<text x="512.52" y="321.90" font-size="6.2" font-weight="bold" fill="#1a1a1a" stroke="#1a1a1a" stroke-width="0.1" text-anchor="middle">0.60</text>
<text x="560.78" y="321.90" font-size="6.2" font-weight="bold" fill="#1a1a1a" stroke="#1a1a1a" stroke-width="0.1" text-anchor="middle">0.59</text>
<text x="584.91" y="321.90" font-size="6.2" font-weight="bold" fill="#1a1a1a" stroke="#1a1a1a" stroke-width="0.1" text-anchor="middle">0.60</text>
<text x="609.04" y="321.90" font-size="6.2" font-weight="bold" fill="#1a1a1a" stroke="#1a1a1a" stroke-width="0.1" text-anchor="middle">0.60</text>
<text x="633.17" y="321.90" font-size="6.2" font-weight="bold" fill="#1a1a1a" stroke="#1a1a1a" stroke-width="0.1" text-anchor="middle">0.43</text>
<text x="464.26" y="348.61" font-size="6.2" font-weight="bold" fill="#1a1a1a" stroke="#1a1a1a" stroke-width="0.1" text-anchor="middle">0.36</text>
<text x="488.39" y="348.61" font-size="6.2" font-weight="bold" fill="#1a1a1a" stroke="#1a1a1a" stroke-width="0.1" text-anchor="middle">0.49</text>
<text x="536.65" y="348.61" font-size="6.2" font-weight="bold" fill="#1a1a1a" stroke="#1a1a1a" stroke-width="0.1" text-anchor="middle">0.67</text>
<text x="560.78" y="348.61" font-size="6.2" font-weight="bold" fill="#1a1a1a" stroke="#1a1a1a" stroke-width="0.1" text-anchor="middle">0.39</text>
<text x="584.91" y="348.61" font-size="6.2" font-weight="bold" fill="#1a1a1a" stroke="#1a1a1a" stroke-width="0.1" text-anchor="middle">0.34</text>
<text x="609.04" y="348.61" font-size="6.2" font-weight="bold" fill="#1a1a1a" stroke="#1a1a1a" stroke-width="0.1" text-anchor="middle">0.52</text>
<text x="633.17" y="348.61" font-size="6.2" font-weight="bold" fill="#1a1a1a" stroke="#1a1a1a" stroke-width="0.1" text-anchor="middle">0.31</text>
<text x="464.26" y="375.32" font-size="6.2" font-weight="bold" fill="#1a1a1a" stroke="#1a1a1a" stroke-width="0.1" text-anchor="middle">0.33</text>
<text x="512.52" y="375.32" font-size="6.2" font-weight="bold" fill="#1a1a1a" stroke="#1a1a1a" stroke-width="0.1" text-anchor="middle">0.38</text>
<text x="536.65" y="375.32" font-size="6.2" font-weight="bold" fill="#1a1a1a" stroke="#1a1a1a" stroke-width="0.1" text-anchor="middle">0.49</text>
<text x="560.78" y="375.32" font-size="6.2" font-weight="bold" fill="#1a1a1a" stroke="#1a1a1a" stroke-width="0.1" text-anchor="middle">0.33</text>
<text x="584.91" y="375.32" font-size="6.2" font-weight="bold" fill="#1a1a1a" stroke="#1a1a1a" stroke-width="0.1" text-anchor="middle">0.37</text>
<text x="609.04" y="375.32" font-size="6.2" font-weight="bold" fill="#1a1a1a" stroke="#1a1a1a" stroke-width="0.1" text-anchor="middle">0.44</text>
<text x="633.17" y="375.32" font-size="6.2" font-weight="bold" fill="#1a1a1a" stroke="#1a1a1a" stroke-width="0.1" text-anchor="middle">0.24</text>
<text x="488.39" y="402.03" font-size="6.2" font-weight="bold" fill="#1a1a1a" stroke="#1a1a1a" stroke-width="0.1" text-anchor="middle">0.49</text>
<text x="512.52" y="402.03" font-size="6.2" font-weight="bold" fill="#1a1a1a" stroke="#1a1a1a" stroke-width="0.1" text-anchor="middle">0.40</text>
<text x="536.65" y="402.03" font-size="6.2" font-weight="bold" fill="#1a1a1a" stroke="#1a1a1a" stroke-width="0.1" text-anchor="middle">0.69</text>
<text x="560.78" y="402.03" font-size="6.2" font-weight="bold" fill="#1a1a1a" stroke="#1a1a1a" stroke-width="0.1" text-anchor="middle">0.34</text>
<text x="584.91" y="402.03" font-size="6.2" font-weight="bold" fill="#1a1a1a" stroke="#1a1a1a" stroke-width="0.1" text-anchor="middle">0.15</text>
<text x="609.04" y="402.03" font-size="6.2" font-weight="bold" fill="#1a1a1a" stroke="#1a1a1a" stroke-width="0.1" text-anchor="middle">0.55</text>
<text x="633.17" y="402.03" font-size="6.2" font-weight="bold" fill="#1a1a1a" stroke="#1a1a1a" stroke-width="0.1" text-anchor="middle">0.30</text>
<rect x="452.20" y="199.10" width="193.04" height="213.68" fill="none" stroke="#e2e2e2" stroke-width="0.5"/>
<line x1="464.26" x2="464.26" y1="412.78" y2="416.38" stroke="#bbb" stroke-width="0.5"/>
<line x1="464.26" x2="464.26" y1="196.70" y2="199.10" stroke="#ccc" stroke-width="0.5"/>
<text x="464.26" y="423.9" font-size="6.1" font-weight="bold" fill="#222" stroke="#222" stroke-width="0.12" text-anchor="middle">BACS</text>
<line x1="488.39" x2="488.39" y1="412.78" y2="416.38" stroke="#bbb" stroke-width="0.5"/>
<line x1="488.39" x2="488.39" y1="196.70" y2="199.10" stroke="#ccc" stroke-width="0.5"/>
<text x="488.39" y="423.9" font-size="6.1" font-weight="bold" fill="#222" stroke="#222" stroke-width="0.12" text-anchor="middle">BVMT</text>
<line x1="512.52" x2="512.52" y1="412.78" y2="416.38" stroke="#bbb" stroke-width="0.5"/>
<line x1="512.52" x2="512.52" y1="196.70" y2="199.10" stroke="#ccc" stroke-width="0.5"/>
<text x="512.52" y="423.9" font-size="6.1" font-weight="bold" fill="#222" stroke="#222" stroke-width="0.12" text-anchor="middle">CPT</text>
<line x1="536.65" x2="536.65" y1="412.78" y2="416.38" stroke="#bbb" stroke-width="0.5"/>
<line x1="536.65" x2="536.65" y1="196.70" y2="199.10" stroke="#ccc" stroke-width="0.5"/>
<text x="536.65" y="423.9" font-size="6.1" font-weight="bold" fill="#222" stroke="#222" stroke-width="0.12" text-anchor="middle">HVLT</text>
<line x1="560.78" x2="560.78" y1="412.78" y2="416.38" stroke="#bbb" stroke-width="0.5"/>
<line x1="560.78" x2="560.78" y1="196.70" y2="199.10" stroke="#ccc" stroke-width="0.5"/>
<text x="560.78" y="423.9" font-size="6.1" font-weight="bold" fill="#222" stroke="#222" stroke-width="0.12" text-anchor="middle">Maze</text>
<line x1="584.91" x2="584.91" y1="412.78" y2="416.38" stroke="#bbb" stroke-width="0.5"/>
<line x1="584.91" x2="584.91" y1="196.70" y2="199.10" stroke="#ccc" stroke-width="0.5"/>
<text x="584.91" y="423.9" font-size="6.1" font-weight="bold" fill="#222" stroke="#222" stroke-width="0.12" text-anchor="middle">TMT</text>
<line x1="609.04" x2="609.04" y1="412.78" y2="416.38" stroke="#bbb" stroke-width="0.5"/>
<line x1="609.04" x2="609.04" y1="196.70" y2="199.10" stroke="#ccc" stroke-width="0.5"/>
<text x="609.04" y="423.9" font-size="6.1" font-weight="bold" fill="#222" stroke="#222" stroke-width="0.12" text-anchor="middle">VFT</text>
<line x1="633.17" x2="633.17" y1="412.78" y2="416.38" stroke="#bbb" stroke-width="0.5"/>
<line x1="633.17" x2="633.17" y1="196.70" y2="199.10" stroke="#ccc" stroke-width="0.5"/>
<text x="633.17" y="423.9" font-size="6.1" font-weight="bold" fill="#222" stroke="#222" stroke-width="0.12" text-anchor="middle">WMS</text>
<line x1="448.60" x2="452.20" y1="212.45" y2="212.45" stroke="#bbb" stroke-width="0.5"/>
<line x1="645.24" x2="647.24" y1="212.45" y2="212.45" stroke="#ccc" stroke-width="0.5"/>
<line x1="447.90" x2="450.20" y1="212.45" y2="212.45" stroke="#888" stroke-width="0.6"/>
<line x1="448.60" x2="452.20" y1="239.16" y2="239.16" stroke="#bbb" stroke-width="0.5"/>
<line x1="645.24" x2="647.24" y1="239.16" y2="239.16" stroke="#ccc" stroke-width="0.5"/>
<line x1="447.90" x2="450.20" y1="239.16" y2="239.16" stroke="#888" stroke-width="0.6"/>
<line x1="448.60" x2="452.20" y1="265.88" y2="265.88" stroke="#bbb" stroke-width="0.5"/>
<line x1="645.24" x2="647.24" y1="265.88" y2="265.88" stroke="#ccc" stroke-width="0.5"/>
<line x1="447.90" x2="450.20" y1="265.88" y2="265.88" stroke="#888" stroke-width="0.6"/>
<line x1="448.60" x2="452.20" y1="292.58" y2="292.58" stroke="#bbb" stroke-width="0.5"/>
<line x1="645.24" x2="647.24" y1="292.58" y2="292.58" stroke="#ccc" stroke-width="0.5"/>
<line x1="447.90" x2="450.20" y1="292.58" y2="292.58" stroke="#888" stroke-width="0.6"/>
<line x1="448.60" x2="452.20" y1="319.30" y2="319.30" stroke="#bbb" stroke-width="0.5"/>
<line x1="645.24" x2="647.24" y1="319.30" y2="319.30" stroke="#ccc" stroke-width="0.5"/>
<line x1="447.90" x2="450.20" y1="319.30" y2="319.30" stroke="#888" stroke-width="0.6"/>
<line x1="448.60" x2="452.20" y1="346.00" y2="346.00" stroke="#bbb" stroke-width="0.5"/>
<line x1="645.24" x2="647.24" y1="346.00" y2="346.00" stroke="#ccc" stroke-width="0.5"/>
<line x1="447.90" x2="450.20" y1="346.00" y2="346.00" stroke="#888" stroke-width="0.6"/>
<line x1="448.60" x2="452.20" y1="372.72" y2="372.72" stroke="#bbb" stroke-width="0.5"/>
<line x1="645.24" x2="647.24" y1="372.72" y2="372.72" stroke="#ccc" stroke-width="0.5"/>
<line x1="447.90" x2="450.20" y1="372.72" y2="372.72" stroke="#888" stroke-width="0.6"/>
<line x1="448.60" x2="452.20" y1="399.43" y2="399.43" stroke="#bbb" stroke-width="0.5"/>
<line x1="645.24" x2="647.24" y1="399.43" y2="399.43" stroke="#ccc" stroke-width="0.5"/>
<line x1="447.90" x2="450.20" y1="399.43" y2="399.43" stroke="#888" stroke-width="0.6"/>
<text x="551.50" y="438.9" font-size="10.4" fill="#1a1a1a" text-anchor="middle" stroke="#1a1a1a" stroke-width="0.18">FES</text>
<text x="658.7" y="276.1" font-size="7.7" font-weight="bold" fill="#222" stroke="#222" stroke-width="0.18">ACME</text>
<defs><linearGradient id="lg" x1="0" y1="0" x2="0" y2="1"><stop offset="0" stop-color="#d0696f"/><stop offset="1" stop-color="#ffffff"/></linearGradient></defs>
<rect x="658.8" y="281.0" width="12.6" height="61.6" fill="url(#lg)"/>
<text x="675.4" y="283.15" font-size="6.1" font-weight="bold" fill="#333" stroke="#333" stroke-width="0.18">1.5</text>
<text x="675.4" y="303.68" font-size="6.1" font-weight="bold" fill="#333" stroke="#333" stroke-width="0.18">1.0</text>
<line x1="658.8" x2="660.8" y1="301.53" y2="301.53" stroke="#fff" stroke-width="0.5"/>
<line x1="669.4" x2="671.4" y1="301.53" y2="301.53" stroke="#fff" stroke-width="0.5"/>
<text x="675.4" y="324.22" font-size="6.1" font-weight="bold" fill="#333" stroke="#333" stroke-width="0.18">0.5</text>
<line x1="658.8" x2="660.8" y1="322.07" y2="322.07" stroke="#fff" stroke-width="0.5"/>
<line x1="669.4" x2="671.4" y1="322.07" y2="322.07" stroke="#fff" stroke-width="0.5"/>
<text x="675.4" y="344.75" font-size="6.1" font-weight="bold" fill="#333" stroke="#333" stroke-width="0.18">0.0</text>
</svg></body></html>
